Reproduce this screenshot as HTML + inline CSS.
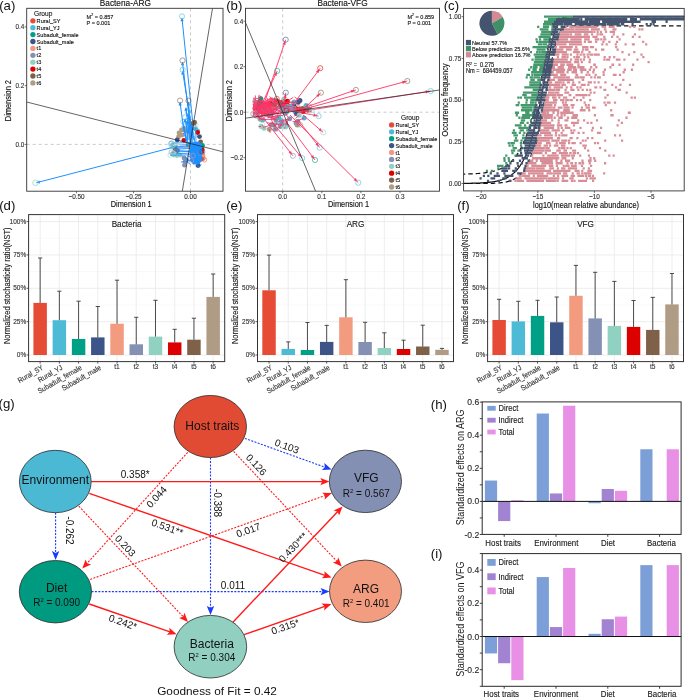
<!DOCTYPE html>
<html><head><meta charset="utf-8"><style>
html,body{margin:0;padding:0;background:#fff;width:685px;height:698px;overflow:hidden}
svg{display:block;font-family:'Liberation Sans',sans-serif;will-change:transform}
</style></head><body>
<svg width="685" height="698" viewBox="0 0 685 698" style="font-family:'Liberation Sans',sans-serif">
<text x="0" y="0" font-size="13.2" text-anchor="start" fill="#111" transform="translate(-0.80 9.50)" >(a)</text>
<text x="0" y="0" font-size="13.2" text-anchor="start" fill="#111" transform="translate(226.20 9.50)" >(b)</text>
<text x="0" y="0" font-size="13.2" text-anchor="start" fill="#111" transform="translate(443.70 9.50)" >(c)</text>
<text x="0" y="0" font-size="13.2" text-anchor="start" fill="#111" transform="translate(-0.80 210.30)" >(d)</text>
<text x="0" y="0" font-size="13.2" text-anchor="start" fill="#111" transform="translate(226.20 210.30)" >(e)</text>
<text x="0" y="0" font-size="13.2" text-anchor="start" fill="#111" transform="translate(457.20 210.30)" >(f)</text>
<text x="0" y="0" font-size="13.2" text-anchor="start" fill="#111" transform="translate(-1.50 408.30)" >(g)</text>
<text x="0" y="0" font-size="13.2" text-anchor="start" fill="#111" transform="translate(430.80 408.50)" >(h)</text>
<text x="0" y="0" font-size="13.2" text-anchor="start" fill="#111" transform="translate(430.80 557.50)" >(i)</text>
<line x1="28.60" y1="338.32" x2="224.70" y2="338.32" stroke="#F3F3F3" stroke-width="0.5" />
<line x1="28.60" y1="304.98" x2="224.70" y2="304.98" stroke="#F3F3F3" stroke-width="0.5" />
<line x1="28.60" y1="271.62" x2="224.70" y2="271.62" stroke="#F3F3F3" stroke-width="0.5" />
<line x1="28.60" y1="238.27" x2="224.70" y2="238.27" stroke="#F3F3F3" stroke-width="0.5" />
<line x1="28.60" y1="355.00" x2="224.70" y2="355.00" stroke="#EBEBEB" stroke-width="0.9" />
<line x1="28.60" y1="321.65" x2="224.70" y2="321.65" stroke="#EBEBEB" stroke-width="0.9" />
<line x1="28.60" y1="288.30" x2="224.70" y2="288.30" stroke="#EBEBEB" stroke-width="0.9" />
<line x1="28.60" y1="254.95" x2="224.70" y2="254.95" stroke="#EBEBEB" stroke-width="0.9" />
<line x1="28.60" y1="221.60" x2="224.70" y2="221.60" stroke="#EBEBEB" stroke-width="0.9" />
<line x1="40.14" y1="214.60" x2="40.14" y2="361.60" stroke="#EBEBEB" stroke-width="0.9" />
<line x1="59.36" y1="214.60" x2="59.36" y2="361.60" stroke="#EBEBEB" stroke-width="0.9" />
<line x1="78.59" y1="214.60" x2="78.59" y2="361.60" stroke="#EBEBEB" stroke-width="0.9" />
<line x1="97.81" y1="214.60" x2="97.81" y2="361.60" stroke="#EBEBEB" stroke-width="0.9" />
<line x1="117.04" y1="214.60" x2="117.04" y2="361.60" stroke="#EBEBEB" stroke-width="0.9" />
<line x1="136.26" y1="214.60" x2="136.26" y2="361.60" stroke="#EBEBEB" stroke-width="0.9" />
<line x1="155.49" y1="214.60" x2="155.49" y2="361.60" stroke="#EBEBEB" stroke-width="0.9" />
<line x1="174.71" y1="214.60" x2="174.71" y2="361.60" stroke="#EBEBEB" stroke-width="0.9" />
<line x1="193.94" y1="214.60" x2="193.94" y2="361.60" stroke="#EBEBEB" stroke-width="0.9" />
<line x1="213.16" y1="214.60" x2="213.16" y2="361.60" stroke="#EBEBEB" stroke-width="0.9" />
<rect x="33.41" y="302.90" width="13.46" height="52.10" fill="#E64B35" />
<rect x="52.63" y="320.20" width="13.46" height="34.80" fill="#4DBBD5" />
<rect x="71.86" y="339.00" width="13.46" height="16.00" fill="#00A087" />
<rect x="91.08" y="337.40" width="13.46" height="17.60" fill="#3C5488" />
<rect x="110.31" y="323.70" width="13.46" height="31.30" fill="#F39B7F" />
<rect x="129.53" y="344.30" width="13.46" height="10.70" fill="#8491B4" />
<rect x="148.76" y="336.60" width="13.46" height="18.40" fill="#91D1C2" />
<rect x="167.98" y="342.40" width="13.46" height="12.60" fill="#DC0000" />
<rect x="187.21" y="339.70" width="13.46" height="15.30" fill="#7E6148" />
<rect x="206.44" y="296.90" width="13.46" height="58.10" fill="#B09C85" />
<line x1="40.14" y1="302.90" x2="40.14" y2="258.00" stroke="#3a3a3a" stroke-width="0.9" />
<line x1="38.04" y1="258.00" x2="42.24" y2="258.00" stroke="#3a3a3a" stroke-width="0.9" />
<line x1="59.36" y1="320.20" x2="59.36" y2="291.20" stroke="#3a3a3a" stroke-width="0.9" />
<line x1="57.26" y1="291.20" x2="61.46" y2="291.20" stroke="#3a3a3a" stroke-width="0.9" />
<line x1="78.59" y1="339.00" x2="78.59" y2="301.20" stroke="#3a3a3a" stroke-width="0.9" />
<line x1="76.49" y1="301.20" x2="80.69" y2="301.20" stroke="#3a3a3a" stroke-width="0.9" />
<line x1="97.81" y1="337.40" x2="97.81" y2="306.50" stroke="#3a3a3a" stroke-width="0.9" />
<line x1="95.71" y1="306.50" x2="99.91" y2="306.50" stroke="#3a3a3a" stroke-width="0.9" />
<line x1="117.04" y1="323.70" x2="117.04" y2="280.20" stroke="#3a3a3a" stroke-width="0.9" />
<line x1="114.94" y1="280.20" x2="119.14" y2="280.20" stroke="#3a3a3a" stroke-width="0.9" />
<line x1="136.26" y1="344.30" x2="136.26" y2="317.30" stroke="#3a3a3a" stroke-width="0.9" />
<line x1="134.16" y1="317.30" x2="138.36" y2="317.30" stroke="#3a3a3a" stroke-width="0.9" />
<line x1="155.49" y1="336.60" x2="155.49" y2="300.30" stroke="#3a3a3a" stroke-width="0.9" />
<line x1="153.39" y1="300.30" x2="157.59" y2="300.30" stroke="#3a3a3a" stroke-width="0.9" />
<line x1="174.71" y1="342.40" x2="174.71" y2="329.30" stroke="#3a3a3a" stroke-width="0.9" />
<line x1="172.61" y1="329.30" x2="176.81" y2="329.30" stroke="#3a3a3a" stroke-width="0.9" />
<line x1="193.94" y1="339.70" x2="193.94" y2="318.20" stroke="#3a3a3a" stroke-width="0.9" />
<line x1="191.84" y1="318.20" x2="196.04" y2="318.20" stroke="#3a3a3a" stroke-width="0.9" />
<line x1="213.16" y1="296.90" x2="213.16" y2="274.00" stroke="#3a3a3a" stroke-width="0.9" />
<line x1="211.06" y1="274.00" x2="215.26" y2="274.00" stroke="#3a3a3a" stroke-width="0.9" />
<rect x="28.60" y="214.60" width="196.10" height="147.00" fill="none" stroke="#333333" stroke-width="1"/>
<line x1="26.60" y1="355.00" x2="28.60" y2="355.00" stroke="#333333" stroke-width="0.8" />
<text x="0" y="0" font-size="6.5" text-anchor="end" fill="#333333" stroke="#333333" stroke-width="0.12" transform="translate(26.20 357.10) scale(1 1.12)" >0%</text>
<line x1="26.60" y1="321.65" x2="28.60" y2="321.65" stroke="#333333" stroke-width="0.8" />
<text x="0" y="0" font-size="6.5" text-anchor="end" fill="#333333" stroke="#333333" stroke-width="0.12" transform="translate(26.20 323.75) scale(1 1.12)" >25%</text>
<line x1="26.60" y1="288.30" x2="28.60" y2="288.30" stroke="#333333" stroke-width="0.8" />
<text x="0" y="0" font-size="6.5" text-anchor="end" fill="#333333" stroke="#333333" stroke-width="0.12" transform="translate(26.20 290.40) scale(1 1.12)" >50%</text>
<line x1="26.60" y1="254.95" x2="28.60" y2="254.95" stroke="#333333" stroke-width="0.8" />
<text x="0" y="0" font-size="6.5" text-anchor="end" fill="#333333" stroke="#333333" stroke-width="0.12" transform="translate(26.20 257.05) scale(1 1.12)" >75%</text>
<line x1="26.60" y1="221.60" x2="28.60" y2="221.60" stroke="#333333" stroke-width="0.8" />
<text x="0" y="0" font-size="6.5" text-anchor="end" fill="#333333" stroke="#333333" stroke-width="0.12" transform="translate(26.20 223.70) scale(1 1.12)" >100%</text>
<line x1="40.14" y1="361.60" x2="40.14" y2="363.60" stroke="#333333" stroke-width="0.8" />
<text x="0" y="0" font-size="6.6" text-anchor="end" fill="#333333" stroke="#333333" stroke-width="0.12" transform="translate(43.94 369.10) rotate(-30) scale(1 1.12)">Rural_SY</text>
<line x1="59.36" y1="361.60" x2="59.36" y2="363.60" stroke="#333333" stroke-width="0.8" />
<text x="0" y="0" font-size="6.6" text-anchor="end" fill="#333333" stroke="#333333" stroke-width="0.12" transform="translate(63.16 369.10) rotate(-30) scale(1 1.12)">Rural_YJ</text>
<line x1="78.59" y1="361.60" x2="78.59" y2="363.60" stroke="#333333" stroke-width="0.8" />
<text x="0" y="0" font-size="6.6" text-anchor="end" fill="#333333" stroke="#333333" stroke-width="0.12" transform="translate(82.39 369.10) rotate(-30) scale(1 1.12)">Subadult_female</text>
<line x1="97.81" y1="361.60" x2="97.81" y2="363.60" stroke="#333333" stroke-width="0.8" />
<text x="0" y="0" font-size="6.6" text-anchor="end" fill="#333333" stroke="#333333" stroke-width="0.12" transform="translate(101.61 369.10) rotate(-30) scale(1 1.12)">Subadult_male</text>
<line x1="117.04" y1="361.60" x2="117.04" y2="363.60" stroke="#333333" stroke-width="0.8" />
<text x="0" y="0" font-size="6.6" text-anchor="middle" fill="#333333" stroke="#333333" stroke-width="0.12" transform="translate(117.04 368.80) scale(1 1.12)" >t1</text>
<line x1="136.26" y1="361.60" x2="136.26" y2="363.60" stroke="#333333" stroke-width="0.8" />
<text x="0" y="0" font-size="6.6" text-anchor="middle" fill="#333333" stroke="#333333" stroke-width="0.12" transform="translate(136.26 368.80) scale(1 1.12)" >t2</text>
<line x1="155.49" y1="361.60" x2="155.49" y2="363.60" stroke="#333333" stroke-width="0.8" />
<text x="0" y="0" font-size="6.6" text-anchor="middle" fill="#333333" stroke="#333333" stroke-width="0.12" transform="translate(155.49 368.80) scale(1 1.12)" >t3</text>
<line x1="174.71" y1="361.60" x2="174.71" y2="363.60" stroke="#333333" stroke-width="0.8" />
<text x="0" y="0" font-size="6.6" text-anchor="middle" fill="#333333" stroke="#333333" stroke-width="0.12" transform="translate(174.71 368.80) scale(1 1.12)" >t4</text>
<line x1="193.94" y1="361.60" x2="193.94" y2="363.60" stroke="#333333" stroke-width="0.8" />
<text x="0" y="0" font-size="6.6" text-anchor="middle" fill="#333333" stroke="#333333" stroke-width="0.12" transform="translate(193.94 368.80) scale(1 1.12)" >t5</text>
<line x1="213.16" y1="361.60" x2="213.16" y2="363.60" stroke="#333333" stroke-width="0.8" />
<text x="0" y="0" font-size="6.6" text-anchor="middle" fill="#333333" stroke="#333333" stroke-width="0.12" transform="translate(213.16 368.80) scale(1 1.12)" >t6</text>
<text x="0" y="0" font-size="8.2" text-anchor="middle" fill="#1a1a1a" stroke="#1a1a1a" stroke-width="0.12" transform="translate(126.65 227.00) scale(1 1.12)" >Bacteria</text>
<text x="0" y="0" font-size="7.45" text-anchor="middle" dominant-baseline="central" fill="#1a1a1a" stroke="#1a1a1a" stroke-width="0.12" transform="translate(7.50 285.80) rotate(-90.00) scale(1 1.12)" >Normalized stochasticity ratio(NST)</text>
<line x1="257.50" y1="338.32" x2="453.50" y2="338.32" stroke="#F3F3F3" stroke-width="0.5" />
<line x1="257.50" y1="304.98" x2="453.50" y2="304.98" stroke="#F3F3F3" stroke-width="0.5" />
<line x1="257.50" y1="271.62" x2="453.50" y2="271.62" stroke="#F3F3F3" stroke-width="0.5" />
<line x1="257.50" y1="238.27" x2="453.50" y2="238.27" stroke="#F3F3F3" stroke-width="0.5" />
<line x1="257.50" y1="355.00" x2="453.50" y2="355.00" stroke="#EBEBEB" stroke-width="0.9" />
<line x1="257.50" y1="321.65" x2="453.50" y2="321.65" stroke="#EBEBEB" stroke-width="0.9" />
<line x1="257.50" y1="288.30" x2="453.50" y2="288.30" stroke="#EBEBEB" stroke-width="0.9" />
<line x1="257.50" y1="254.95" x2="453.50" y2="254.95" stroke="#EBEBEB" stroke-width="0.9" />
<line x1="257.50" y1="221.60" x2="453.50" y2="221.60" stroke="#EBEBEB" stroke-width="0.9" />
<line x1="269.03" y1="214.60" x2="269.03" y2="361.60" stroke="#EBEBEB" stroke-width="0.9" />
<line x1="288.25" y1="214.60" x2="288.25" y2="361.60" stroke="#EBEBEB" stroke-width="0.9" />
<line x1="307.46" y1="214.60" x2="307.46" y2="361.60" stroke="#EBEBEB" stroke-width="0.9" />
<line x1="326.68" y1="214.60" x2="326.68" y2="361.60" stroke="#EBEBEB" stroke-width="0.9" />
<line x1="345.89" y1="214.60" x2="345.89" y2="361.60" stroke="#EBEBEB" stroke-width="0.9" />
<line x1="365.11" y1="214.60" x2="365.11" y2="361.60" stroke="#EBEBEB" stroke-width="0.9" />
<line x1="384.32" y1="214.60" x2="384.32" y2="361.60" stroke="#EBEBEB" stroke-width="0.9" />
<line x1="403.54" y1="214.60" x2="403.54" y2="361.60" stroke="#EBEBEB" stroke-width="0.9" />
<line x1="422.75" y1="214.60" x2="422.75" y2="361.60" stroke="#EBEBEB" stroke-width="0.9" />
<line x1="441.97" y1="214.60" x2="441.97" y2="361.60" stroke="#EBEBEB" stroke-width="0.9" />
<rect x="262.30" y="290.30" width="13.45" height="64.70" fill="#E64B35" />
<rect x="281.52" y="348.90" width="13.45" height="6.10" fill="#4DBBD5" />
<rect x="300.74" y="350.00" width="13.45" height="5.00" fill="#00A087" />
<rect x="319.95" y="341.90" width="13.45" height="13.10" fill="#3C5488" />
<rect x="339.17" y="317.30" width="13.45" height="37.70" fill="#F39B7F" />
<rect x="358.38" y="342.00" width="13.45" height="13.00" fill="#8491B4" />
<rect x="377.60" y="348.00" width="13.45" height="7.00" fill="#91D1C2" />
<rect x="396.81" y="349.00" width="13.45" height="6.00" fill="#DC0000" />
<rect x="416.03" y="346.50" width="13.45" height="8.50" fill="#7E6148" />
<rect x="435.25" y="349.80" width="13.45" height="5.20" fill="#B09C85" />
<line x1="269.03" y1="290.30" x2="269.03" y2="255.10" stroke="#3a3a3a" stroke-width="0.9" />
<line x1="266.93" y1="255.10" x2="271.13" y2="255.10" stroke="#3a3a3a" stroke-width="0.9" />
<line x1="288.25" y1="348.90" x2="288.25" y2="341.90" stroke="#3a3a3a" stroke-width="0.9" />
<line x1="286.15" y1="341.90" x2="290.35" y2="341.90" stroke="#3a3a3a" stroke-width="0.9" />
<line x1="307.46" y1="350.00" x2="307.46" y2="322.50" stroke="#3a3a3a" stroke-width="0.9" />
<line x1="305.36" y1="322.50" x2="309.56" y2="322.50" stroke="#3a3a3a" stroke-width="0.9" />
<line x1="326.68" y1="341.90" x2="326.68" y2="325.40" stroke="#3a3a3a" stroke-width="0.9" />
<line x1="324.58" y1="325.40" x2="328.78" y2="325.40" stroke="#3a3a3a" stroke-width="0.9" />
<line x1="345.89" y1="317.30" x2="345.89" y2="279.70" stroke="#3a3a3a" stroke-width="0.9" />
<line x1="343.79" y1="279.70" x2="347.99" y2="279.70" stroke="#3a3a3a" stroke-width="0.9" />
<line x1="365.11" y1="342.00" x2="365.11" y2="322.30" stroke="#3a3a3a" stroke-width="0.9" />
<line x1="363.01" y1="322.30" x2="367.21" y2="322.30" stroke="#3a3a3a" stroke-width="0.9" />
<line x1="384.32" y1="348.00" x2="384.32" y2="332.80" stroke="#3a3a3a" stroke-width="0.9" />
<line x1="382.22" y1="332.80" x2="386.42" y2="332.80" stroke="#3a3a3a" stroke-width="0.9" />
<line x1="403.54" y1="349.00" x2="403.54" y2="340.20" stroke="#3a3a3a" stroke-width="0.9" />
<line x1="401.44" y1="340.20" x2="405.64" y2="340.20" stroke="#3a3a3a" stroke-width="0.9" />
<line x1="422.75" y1="346.50" x2="422.75" y2="325.20" stroke="#3a3a3a" stroke-width="0.9" />
<line x1="420.65" y1="325.20" x2="424.85" y2="325.20" stroke="#3a3a3a" stroke-width="0.9" />
<line x1="441.97" y1="349.80" x2="441.97" y2="348.40" stroke="#3a3a3a" stroke-width="0.9" />
<line x1="439.87" y1="348.40" x2="444.07" y2="348.40" stroke="#3a3a3a" stroke-width="0.9" />
<rect x="257.50" y="214.60" width="196.00" height="147.00" fill="none" stroke="#333333" stroke-width="1"/>
<line x1="255.50" y1="355.00" x2="257.50" y2="355.00" stroke="#333333" stroke-width="0.8" />
<text x="0" y="0" font-size="6.5" text-anchor="end" fill="#333333" stroke="#333333" stroke-width="0.12" transform="translate(255.10 357.10) scale(1 1.12)" >0%</text>
<line x1="255.50" y1="321.65" x2="257.50" y2="321.65" stroke="#333333" stroke-width="0.8" />
<text x="0" y="0" font-size="6.5" text-anchor="end" fill="#333333" stroke="#333333" stroke-width="0.12" transform="translate(255.10 323.75) scale(1 1.12)" >25%</text>
<line x1="255.50" y1="288.30" x2="257.50" y2="288.30" stroke="#333333" stroke-width="0.8" />
<text x="0" y="0" font-size="6.5" text-anchor="end" fill="#333333" stroke="#333333" stroke-width="0.12" transform="translate(255.10 290.40) scale(1 1.12)" >50%</text>
<line x1="255.50" y1="254.95" x2="257.50" y2="254.95" stroke="#333333" stroke-width="0.8" />
<text x="0" y="0" font-size="6.5" text-anchor="end" fill="#333333" stroke="#333333" stroke-width="0.12" transform="translate(255.10 257.05) scale(1 1.12)" >75%</text>
<line x1="255.50" y1="221.60" x2="257.50" y2="221.60" stroke="#333333" stroke-width="0.8" />
<text x="0" y="0" font-size="6.5" text-anchor="end" fill="#333333" stroke="#333333" stroke-width="0.12" transform="translate(255.10 223.70) scale(1 1.12)" >100%</text>
<line x1="269.03" y1="361.60" x2="269.03" y2="363.60" stroke="#333333" stroke-width="0.8" />
<text x="0" y="0" font-size="6.6" text-anchor="end" fill="#333333" stroke="#333333" stroke-width="0.12" transform="translate(272.83 369.10) rotate(-30) scale(1 1.12)">Rural_SY</text>
<line x1="288.25" y1="361.60" x2="288.25" y2="363.60" stroke="#333333" stroke-width="0.8" />
<text x="0" y="0" font-size="6.6" text-anchor="end" fill="#333333" stroke="#333333" stroke-width="0.12" transform="translate(292.05 369.10) rotate(-30) scale(1 1.12)">Rural_YJ</text>
<line x1="307.46" y1="361.60" x2="307.46" y2="363.60" stroke="#333333" stroke-width="0.8" />
<text x="0" y="0" font-size="6.6" text-anchor="end" fill="#333333" stroke="#333333" stroke-width="0.12" transform="translate(311.26 369.10) rotate(-30) scale(1 1.12)">Subadult_female</text>
<line x1="326.68" y1="361.60" x2="326.68" y2="363.60" stroke="#333333" stroke-width="0.8" />
<text x="0" y="0" font-size="6.6" text-anchor="end" fill="#333333" stroke="#333333" stroke-width="0.12" transform="translate(330.48 369.10) rotate(-30) scale(1 1.12)">Subadult_male</text>
<line x1="345.89" y1="361.60" x2="345.89" y2="363.60" stroke="#333333" stroke-width="0.8" />
<text x="0" y="0" font-size="6.6" text-anchor="middle" fill="#333333" stroke="#333333" stroke-width="0.12" transform="translate(345.89 368.80) scale(1 1.12)" >t1</text>
<line x1="365.11" y1="361.60" x2="365.11" y2="363.60" stroke="#333333" stroke-width="0.8" />
<text x="0" y="0" font-size="6.6" text-anchor="middle" fill="#333333" stroke="#333333" stroke-width="0.12" transform="translate(365.11 368.80) scale(1 1.12)" >t2</text>
<line x1="384.32" y1="361.60" x2="384.32" y2="363.60" stroke="#333333" stroke-width="0.8" />
<text x="0" y="0" font-size="6.6" text-anchor="middle" fill="#333333" stroke="#333333" stroke-width="0.12" transform="translate(384.32 368.80) scale(1 1.12)" >t3</text>
<line x1="403.54" y1="361.60" x2="403.54" y2="363.60" stroke="#333333" stroke-width="0.8" />
<text x="0" y="0" font-size="6.6" text-anchor="middle" fill="#333333" stroke="#333333" stroke-width="0.12" transform="translate(403.54 368.80) scale(1 1.12)" >t4</text>
<line x1="422.75" y1="361.60" x2="422.75" y2="363.60" stroke="#333333" stroke-width="0.8" />
<text x="0" y="0" font-size="6.6" text-anchor="middle" fill="#333333" stroke="#333333" stroke-width="0.12" transform="translate(422.75 368.80) scale(1 1.12)" >t5</text>
<line x1="441.97" y1="361.60" x2="441.97" y2="363.60" stroke="#333333" stroke-width="0.8" />
<text x="0" y="0" font-size="6.6" text-anchor="middle" fill="#333333" stroke="#333333" stroke-width="0.12" transform="translate(441.97 368.80) scale(1 1.12)" >t6</text>
<text x="0" y="0" font-size="8.2" text-anchor="middle" fill="#1a1a1a" stroke="#1a1a1a" stroke-width="0.12" transform="translate(355.50 227.00) scale(1 1.12)" >ARG</text>
<text x="0" y="0" font-size="7.45" text-anchor="middle" dominant-baseline="central" fill="#1a1a1a" stroke="#1a1a1a" stroke-width="0.12" transform="translate(235.50 285.80) rotate(-90.00) scale(1 1.12)" >Normalized stochasticity ratio(NST)</text>
<line x1="487.60" y1="338.32" x2="683.50" y2="338.32" stroke="#F3F3F3" stroke-width="0.5" />
<line x1="487.60" y1="304.98" x2="683.50" y2="304.98" stroke="#F3F3F3" stroke-width="0.5" />
<line x1="487.60" y1="271.62" x2="683.50" y2="271.62" stroke="#F3F3F3" stroke-width="0.5" />
<line x1="487.60" y1="238.27" x2="683.50" y2="238.27" stroke="#F3F3F3" stroke-width="0.5" />
<line x1="487.60" y1="355.00" x2="683.50" y2="355.00" stroke="#EBEBEB" stroke-width="0.9" />
<line x1="487.60" y1="321.65" x2="683.50" y2="321.65" stroke="#EBEBEB" stroke-width="0.9" />
<line x1="487.60" y1="288.30" x2="683.50" y2="288.30" stroke="#EBEBEB" stroke-width="0.9" />
<line x1="487.60" y1="254.95" x2="683.50" y2="254.95" stroke="#EBEBEB" stroke-width="0.9" />
<line x1="487.60" y1="221.60" x2="683.50" y2="221.60" stroke="#EBEBEB" stroke-width="0.9" />
<line x1="499.12" y1="214.60" x2="499.12" y2="361.60" stroke="#EBEBEB" stroke-width="0.9" />
<line x1="518.33" y1="214.60" x2="518.33" y2="361.60" stroke="#EBEBEB" stroke-width="0.9" />
<line x1="537.54" y1="214.60" x2="537.54" y2="361.60" stroke="#EBEBEB" stroke-width="0.9" />
<line x1="556.74" y1="214.60" x2="556.74" y2="361.60" stroke="#EBEBEB" stroke-width="0.9" />
<line x1="575.95" y1="214.60" x2="575.95" y2="361.60" stroke="#EBEBEB" stroke-width="0.9" />
<line x1="595.15" y1="214.60" x2="595.15" y2="361.60" stroke="#EBEBEB" stroke-width="0.9" />
<line x1="614.36" y1="214.60" x2="614.36" y2="361.60" stroke="#EBEBEB" stroke-width="0.9" />
<line x1="633.56" y1="214.60" x2="633.56" y2="361.60" stroke="#EBEBEB" stroke-width="0.9" />
<line x1="652.77" y1="214.60" x2="652.77" y2="361.60" stroke="#EBEBEB" stroke-width="0.9" />
<line x1="671.98" y1="214.60" x2="671.98" y2="361.60" stroke="#EBEBEB" stroke-width="0.9" />
<rect x="492.40" y="320.00" width="13.44" height="35.00" fill="#E64B35" />
<rect x="511.61" y="321.40" width="13.44" height="33.60" fill="#4DBBD5" />
<rect x="530.81" y="315.90" width="13.44" height="39.10" fill="#00A087" />
<rect x="550.02" y="322.30" width="13.44" height="32.70" fill="#3C5488" />
<rect x="569.23" y="295.80" width="13.44" height="59.20" fill="#F39B7F" />
<rect x="588.43" y="318.40" width="13.44" height="36.60" fill="#8491B4" />
<rect x="607.64" y="325.90" width="13.44" height="29.10" fill="#91D1C2" />
<rect x="626.84" y="326.90" width="13.44" height="28.10" fill="#DC0000" />
<rect x="646.05" y="329.90" width="13.44" height="25.10" fill="#7E6148" />
<rect x="665.25" y="304.40" width="13.44" height="50.60" fill="#B09C85" />
<line x1="499.12" y1="320.00" x2="499.12" y2="299.30" stroke="#3a3a3a" stroke-width="0.9" />
<line x1="497.02" y1="299.30" x2="501.22" y2="299.30" stroke="#3a3a3a" stroke-width="0.9" />
<line x1="518.33" y1="321.40" x2="518.33" y2="301.30" stroke="#3a3a3a" stroke-width="0.9" />
<line x1="516.23" y1="301.30" x2="520.43" y2="301.30" stroke="#3a3a3a" stroke-width="0.9" />
<line x1="537.54" y1="315.90" x2="537.54" y2="300.30" stroke="#3a3a3a" stroke-width="0.9" />
<line x1="535.44" y1="300.30" x2="539.64" y2="300.30" stroke="#3a3a3a" stroke-width="0.9" />
<line x1="556.74" y1="322.30" x2="556.74" y2="297.00" stroke="#3a3a3a" stroke-width="0.9" />
<line x1="554.64" y1="297.00" x2="558.84" y2="297.00" stroke="#3a3a3a" stroke-width="0.9" />
<line x1="575.95" y1="295.80" x2="575.95" y2="265.40" stroke="#3a3a3a" stroke-width="0.9" />
<line x1="573.85" y1="265.40" x2="578.05" y2="265.40" stroke="#3a3a3a" stroke-width="0.9" />
<line x1="595.15" y1="318.40" x2="595.15" y2="272.30" stroke="#3a3a3a" stroke-width="0.9" />
<line x1="593.05" y1="272.30" x2="597.25" y2="272.30" stroke="#3a3a3a" stroke-width="0.9" />
<line x1="614.36" y1="325.90" x2="614.36" y2="281.40" stroke="#3a3a3a" stroke-width="0.9" />
<line x1="612.26" y1="281.40" x2="616.46" y2="281.40" stroke="#3a3a3a" stroke-width="0.9" />
<line x1="633.56" y1="326.90" x2="633.56" y2="300.50" stroke="#3a3a3a" stroke-width="0.9" />
<line x1="631.46" y1="300.50" x2="635.66" y2="300.50" stroke="#3a3a3a" stroke-width="0.9" />
<line x1="652.77" y1="329.90" x2="652.77" y2="297.40" stroke="#3a3a3a" stroke-width="0.9" />
<line x1="650.67" y1="297.40" x2="654.87" y2="297.40" stroke="#3a3a3a" stroke-width="0.9" />
<line x1="671.98" y1="304.40" x2="671.98" y2="273.50" stroke="#3a3a3a" stroke-width="0.9" />
<line x1="669.88" y1="273.50" x2="674.08" y2="273.50" stroke="#3a3a3a" stroke-width="0.9" />
<rect x="487.60" y="214.60" width="195.90" height="147.00" fill="none" stroke="#333333" stroke-width="1"/>
<line x1="485.60" y1="355.00" x2="487.60" y2="355.00" stroke="#333333" stroke-width="0.8" />
<text x="0" y="0" font-size="6.5" text-anchor="end" fill="#333333" stroke="#333333" stroke-width="0.12" transform="translate(485.20 357.10) scale(1 1.12)" >0%</text>
<line x1="485.60" y1="321.65" x2="487.60" y2="321.65" stroke="#333333" stroke-width="0.8" />
<text x="0" y="0" font-size="6.5" text-anchor="end" fill="#333333" stroke="#333333" stroke-width="0.12" transform="translate(485.20 323.75) scale(1 1.12)" >25%</text>
<line x1="485.60" y1="288.30" x2="487.60" y2="288.30" stroke="#333333" stroke-width="0.8" />
<text x="0" y="0" font-size="6.5" text-anchor="end" fill="#333333" stroke="#333333" stroke-width="0.12" transform="translate(485.20 290.40) scale(1 1.12)" >50%</text>
<line x1="485.60" y1="254.95" x2="487.60" y2="254.95" stroke="#333333" stroke-width="0.8" />
<text x="0" y="0" font-size="6.5" text-anchor="end" fill="#333333" stroke="#333333" stroke-width="0.12" transform="translate(485.20 257.05) scale(1 1.12)" >75%</text>
<line x1="485.60" y1="221.60" x2="487.60" y2="221.60" stroke="#333333" stroke-width="0.8" />
<text x="0" y="0" font-size="6.5" text-anchor="end" fill="#333333" stroke="#333333" stroke-width="0.12" transform="translate(485.20 223.70) scale(1 1.12)" >100%</text>
<line x1="499.12" y1="361.60" x2="499.12" y2="363.60" stroke="#333333" stroke-width="0.8" />
<text x="0" y="0" font-size="6.6" text-anchor="end" fill="#333333" stroke="#333333" stroke-width="0.12" transform="translate(502.92 369.10) rotate(-30) scale(1 1.12)">Rural_SY</text>
<line x1="518.33" y1="361.60" x2="518.33" y2="363.60" stroke="#333333" stroke-width="0.8" />
<text x="0" y="0" font-size="6.6" text-anchor="end" fill="#333333" stroke="#333333" stroke-width="0.12" transform="translate(522.13 369.10) rotate(-30) scale(1 1.12)">Rural_YJ</text>
<line x1="537.54" y1="361.60" x2="537.54" y2="363.60" stroke="#333333" stroke-width="0.8" />
<text x="0" y="0" font-size="6.6" text-anchor="end" fill="#333333" stroke="#333333" stroke-width="0.12" transform="translate(541.34 369.10) rotate(-30) scale(1 1.12)">Subadult_female</text>
<line x1="556.74" y1="361.60" x2="556.74" y2="363.60" stroke="#333333" stroke-width="0.8" />
<text x="0" y="0" font-size="6.6" text-anchor="end" fill="#333333" stroke="#333333" stroke-width="0.12" transform="translate(560.54 369.10) rotate(-30) scale(1 1.12)">Subadult_male</text>
<line x1="575.95" y1="361.60" x2="575.95" y2="363.60" stroke="#333333" stroke-width="0.8" />
<text x="0" y="0" font-size="6.6" text-anchor="middle" fill="#333333" stroke="#333333" stroke-width="0.12" transform="translate(575.95 368.80) scale(1 1.12)" >t1</text>
<line x1="595.15" y1="361.60" x2="595.15" y2="363.60" stroke="#333333" stroke-width="0.8" />
<text x="0" y="0" font-size="6.6" text-anchor="middle" fill="#333333" stroke="#333333" stroke-width="0.12" transform="translate(595.15 368.80) scale(1 1.12)" >t2</text>
<line x1="614.36" y1="361.60" x2="614.36" y2="363.60" stroke="#333333" stroke-width="0.8" />
<text x="0" y="0" font-size="6.6" text-anchor="middle" fill="#333333" stroke="#333333" stroke-width="0.12" transform="translate(614.36 368.80) scale(1 1.12)" >t3</text>
<line x1="633.56" y1="361.60" x2="633.56" y2="363.60" stroke="#333333" stroke-width="0.8" />
<text x="0" y="0" font-size="6.6" text-anchor="middle" fill="#333333" stroke="#333333" stroke-width="0.12" transform="translate(633.56 368.80) scale(1 1.12)" >t4</text>
<line x1="652.77" y1="361.60" x2="652.77" y2="363.60" stroke="#333333" stroke-width="0.8" />
<text x="0" y="0" font-size="6.6" text-anchor="middle" fill="#333333" stroke="#333333" stroke-width="0.12" transform="translate(652.77 368.80) scale(1 1.12)" >t5</text>
<line x1="671.98" y1="361.60" x2="671.98" y2="363.60" stroke="#333333" stroke-width="0.8" />
<text x="0" y="0" font-size="6.6" text-anchor="middle" fill="#333333" stroke="#333333" stroke-width="0.12" transform="translate(671.98 368.80) scale(1 1.12)" >t6</text>
<text x="0" y="0" font-size="8.2" text-anchor="middle" fill="#1a1a1a" stroke="#1a1a1a" stroke-width="0.12" transform="translate(585.55 227.00) scale(1 1.12)" >VFG</text>
<text x="0" y="0" font-size="7.45" text-anchor="middle" dominant-baseline="central" fill="#1a1a1a" stroke="#1a1a1a" stroke-width="0.12" transform="translate(465.30 285.80) rotate(-90.00) scale(1 1.12)" >Normalized stochasticity ratio(NST)</text>
<rect x="484.90" y="480.55" width="12.20" height="20.85" fill="#7B9FD6" />
<rect x="498.10" y="501.40" width="12.20" height="19.69" fill="#A283D2" />
<rect x="511.30" y="500.24" width="12.20" height="1.16" fill="#E88FE6" />
<rect x="536.70" y="413.52" width="12.20" height="87.88" fill="#7B9FD6" />
<rect x="549.90" y="493.46" width="12.20" height="7.94" fill="#A283D2" />
<rect x="563.10" y="405.74" width="12.20" height="95.66" fill="#E88FE6" />
<rect x="588.50" y="501.40" width="12.20" height="1.82" fill="#7B9FD6" />
<rect x="601.70" y="488.99" width="12.20" height="12.41" fill="#A283D2" />
<rect x="614.90" y="490.81" width="12.20" height="10.59" fill="#E88FE6" />
<rect x="640.30" y="449.27" width="12.20" height="52.13" fill="#7B9FD6" />
<rect x="666.70" y="449.27" width="12.20" height="52.13" fill="#E88FE6" />
<line x1="482.20" y1="501.40" x2="681.10" y2="501.40" stroke="#111" stroke-width="1" />
<rect x="482.20" y="401.90" width="198.90" height="132.50" fill="none" stroke="#2a2a2a" stroke-width="1"/>
<line x1="479.80" y1="402.10" x2="482.20" y2="402.10" stroke="#2a2a2a" stroke-width="0.9" />
<text x="0" y="0" font-size="8.6" text-anchor="end" fill="#2a2a2a" stroke="#2a2a2a" stroke-width="0.12" transform="translate(479.20 405.10) scale(1 1.12)" >0.6</text>
<line x1="479.80" y1="418.65" x2="482.20" y2="418.65" stroke="#2a2a2a" stroke-width="0.9" />
<line x1="479.80" y1="435.20" x2="482.20" y2="435.20" stroke="#2a2a2a" stroke-width="0.9" />
<text x="0" y="0" font-size="8.6" text-anchor="end" fill="#2a2a2a" stroke="#2a2a2a" stroke-width="0.12" transform="translate(479.20 438.20) scale(1 1.12)" >0.4</text>
<line x1="479.80" y1="451.75" x2="482.20" y2="451.75" stroke="#2a2a2a" stroke-width="0.9" />
<line x1="479.80" y1="468.30" x2="482.20" y2="468.30" stroke="#2a2a2a" stroke-width="0.9" />
<text x="0" y="0" font-size="8.6" text-anchor="end" fill="#2a2a2a" stroke="#2a2a2a" stroke-width="0.12" transform="translate(479.20 471.30) scale(1 1.12)" >0.2</text>
<line x1="479.80" y1="484.85" x2="482.20" y2="484.85" stroke="#2a2a2a" stroke-width="0.9" />
<line x1="479.80" y1="501.40" x2="482.20" y2="501.40" stroke="#2a2a2a" stroke-width="0.9" />
<text x="0" y="0" font-size="8.6" text-anchor="end" fill="#2a2a2a" stroke="#2a2a2a" stroke-width="0.12" transform="translate(479.20 504.40) scale(1 1.12)" >0.0</text>
<line x1="479.80" y1="517.95" x2="482.20" y2="517.95" stroke="#2a2a2a" stroke-width="0.9" />
<line x1="479.80" y1="534.50" x2="482.20" y2="534.50" stroke="#2a2a2a" stroke-width="0.9" />
<text x="0" y="0" font-size="8.6" text-anchor="end" fill="#2a2a2a" stroke="#2a2a2a" stroke-width="0.12" transform="translate(479.20 537.50) scale(1 1.12)" >-0.2</text>
<line x1="504.20" y1="534.40" x2="504.20" y2="536.80" stroke="#2a2a2a" stroke-width="0.9" />
<text x="0" y="0" font-size="7.9" text-anchor="middle" fill="#1a1a1a" stroke="#1a1a1a" stroke-width="0.12" transform="translate(503.10 546.00) scale(1 1.12)" >Host traits</text>
<line x1="556.00" y1="534.40" x2="556.00" y2="536.80" stroke="#2a2a2a" stroke-width="0.9" />
<text x="0" y="0" font-size="7.9" text-anchor="middle" fill="#1a1a1a" stroke="#1a1a1a" stroke-width="0.12" transform="translate(556.30 546.00) scale(1 1.12)" >Environment</text>
<line x1="607.80" y1="534.40" x2="607.80" y2="536.80" stroke="#2a2a2a" stroke-width="0.9" />
<text x="0" y="0" font-size="7.9" text-anchor="middle" fill="#1a1a1a" stroke="#1a1a1a" stroke-width="0.12" transform="translate(608.00 546.00) scale(1 1.12)" >Diet</text>
<line x1="659.60" y1="534.40" x2="659.60" y2="536.80" stroke="#2a2a2a" stroke-width="0.9" />
<text x="0" y="0" font-size="7.9" text-anchor="middle" fill="#1a1a1a" stroke="#1a1a1a" stroke-width="0.12" transform="translate(661.50 546.00) scale(1 1.12)" >Bacteria</text>
<rect x="487.30" y="405.90" width="8.40" height="4.80" fill="#7B9FD6" />
<text x="0" y="0" font-size="7.6" text-anchor="start" fill="#1a1a1a" stroke="#1a1a1a" stroke-width="0.12" transform="translate(498.50 411.10) scale(1 1.12)" >Direct</text>
<rect x="487.30" y="417.80" width="8.40" height="4.80" fill="#A283D2" />
<text x="0" y="0" font-size="7.6" text-anchor="start" fill="#1a1a1a" stroke="#1a1a1a" stroke-width="0.12" transform="translate(498.50 423.00) scale(1 1.12)" >Indirect</text>
<rect x="487.30" y="429.60" width="8.40" height="4.80" fill="#E88FE6" />
<text x="0" y="0" font-size="7.6" text-anchor="start" fill="#1a1a1a" stroke="#1a1a1a" stroke-width="0.12" transform="translate(498.50 434.80) scale(1 1.12)" >Total</text>
<text x="0" y="0" font-size="9.0" text-anchor="middle" dominant-baseline="central" fill="#1a1a1a" transform="translate(460.50 467.40) rotate(-90.00) scale(1 1.12)" >Standardized effects on ARG</text>
<rect x="484.90" y="636.50" width="12.20" height="16.93" fill="#7B9FD6" />
<rect x="498.10" y="636.50" width="12.20" height="26.73" fill="#A283D2" />
<rect x="511.30" y="636.50" width="12.20" height="43.66" fill="#E88FE6" />
<rect x="536.70" y="577.07" width="12.20" height="59.43" fill="#7B9FD6" />
<rect x="549.90" y="627.04" width="12.20" height="9.46" fill="#A283D2" />
<rect x="563.10" y="567.94" width="12.20" height="68.56" fill="#E88FE6" />
<rect x="588.50" y="633.84" width="12.20" height="2.66" fill="#7B9FD6" />
<rect x="601.70" y="619.24" width="12.20" height="17.26" fill="#A283D2" />
<rect x="614.90" y="616.58" width="12.20" height="19.92" fill="#E88FE6" />
<rect x="640.30" y="565.12" width="12.20" height="71.38" fill="#7B9FD6" />
<rect x="666.70" y="565.12" width="12.20" height="71.38" fill="#E88FE6" />
<line x1="482.20" y1="636.50" x2="681.10" y2="636.50" stroke="#111" stroke-width="1" />
<rect x="482.20" y="553.60" width="198.90" height="132.70" fill="none" stroke="#2a2a2a" stroke-width="1"/>
<line x1="479.80" y1="553.50" x2="482.20" y2="553.50" stroke="#2a2a2a" stroke-width="0.9" />
<line x1="479.80" y1="570.10" x2="482.20" y2="570.10" stroke="#2a2a2a" stroke-width="0.9" />
<text x="0" y="0" font-size="8.6" text-anchor="end" fill="#2a2a2a" stroke="#2a2a2a" stroke-width="0.12" transform="translate(479.20 573.10) scale(1 1.12)" >0.4</text>
<line x1="479.80" y1="586.70" x2="482.20" y2="586.70" stroke="#2a2a2a" stroke-width="0.9" />
<line x1="479.80" y1="603.30" x2="482.20" y2="603.30" stroke="#2a2a2a" stroke-width="0.9" />
<text x="0" y="0" font-size="8.6" text-anchor="end" fill="#2a2a2a" stroke="#2a2a2a" stroke-width="0.12" transform="translate(479.20 606.30) scale(1 1.12)" >0.2</text>
<line x1="479.80" y1="619.90" x2="482.20" y2="619.90" stroke="#2a2a2a" stroke-width="0.9" />
<line x1="479.80" y1="636.50" x2="482.20" y2="636.50" stroke="#2a2a2a" stroke-width="0.9" />
<text x="0" y="0" font-size="8.6" text-anchor="end" fill="#2a2a2a" stroke="#2a2a2a" stroke-width="0.12" transform="translate(479.20 639.50) scale(1 1.12)" >0.0</text>
<line x1="479.80" y1="653.10" x2="482.20" y2="653.10" stroke="#2a2a2a" stroke-width="0.9" />
<line x1="479.80" y1="669.70" x2="482.20" y2="669.70" stroke="#2a2a2a" stroke-width="0.9" />
<text x="0" y="0" font-size="8.6" text-anchor="end" fill="#2a2a2a" stroke="#2a2a2a" stroke-width="0.12" transform="translate(479.20 672.70) scale(1 1.12)" >-0.2</text>
<line x1="479.80" y1="686.30" x2="482.20" y2="686.30" stroke="#2a2a2a" stroke-width="0.9" />
<line x1="504.20" y1="686.30" x2="504.20" y2="688.70" stroke="#2a2a2a" stroke-width="0.9" />
<text x="0" y="0" font-size="7.9" text-anchor="middle" fill="#1a1a1a" stroke="#1a1a1a" stroke-width="0.12" transform="translate(501.30 697.00) scale(1 1.12)" >Host traits</text>
<line x1="556.00" y1="686.30" x2="556.00" y2="688.70" stroke="#2a2a2a" stroke-width="0.9" />
<text x="0" y="0" font-size="7.9" text-anchor="middle" fill="#1a1a1a" stroke="#1a1a1a" stroke-width="0.12" transform="translate(556.00 697.00) scale(1 1.12)" >Environment</text>
<line x1="607.80" y1="686.30" x2="607.80" y2="688.70" stroke="#2a2a2a" stroke-width="0.9" />
<text x="0" y="0" font-size="7.9" text-anchor="middle" fill="#1a1a1a" stroke="#1a1a1a" stroke-width="0.12" transform="translate(607.80 697.00) scale(1 1.12)" >Diet</text>
<line x1="659.60" y1="686.30" x2="659.60" y2="688.70" stroke="#2a2a2a" stroke-width="0.9" />
<text x="0" y="0" font-size="7.9" text-anchor="middle" fill="#1a1a1a" stroke="#1a1a1a" stroke-width="0.12" transform="translate(662.00 697.00) scale(1 1.12)" >Bacteria</text>
<rect x="487.30" y="559.00" width="8.40" height="6.80" fill="#7B9FD6" />
<text x="0" y="0" font-size="7.6" text-anchor="start" fill="#1a1a1a" stroke="#1a1a1a" stroke-width="0.12" transform="translate(498.50 565.20) scale(1 1.12)" >Direct</text>
<rect x="487.30" y="573.30" width="8.40" height="6.80" fill="#A283D2" />
<text x="0" y="0" font-size="7.6" text-anchor="start" fill="#1a1a1a" stroke="#1a1a1a" stroke-width="0.12" transform="translate(498.50 579.50) scale(1 1.12)" >Indirect</text>
<rect x="487.30" y="587.50" width="8.40" height="6.80" fill="#E88FE6" />
<text x="0" y="0" font-size="7.6" text-anchor="start" fill="#1a1a1a" stroke="#1a1a1a" stroke-width="0.12" transform="translate(498.50 593.70) scale(1 1.12)" >Total</text>
<text x="0" y="0" font-size="9.0" text-anchor="middle" dominant-baseline="central" fill="#1a1a1a" transform="translate(460.50 619.20) rotate(-90.00) scale(1 1.12)" >Standardized effects on VFG</text>
<line x1="244.90" y1="438.40" x2="325.01" y2="467.23" stroke="#1A3CFF" stroke-width="1.1" stroke-dasharray="2.0 1.4"/>
<path d="M331.60 469.60 L321.88 470.03 L324.83 467.16 L324.38 463.07Z" fill="#1A3CFF"/>
<line x1="233.60" y1="451.40" x2="337.01" y2="561.50" stroke="#FF1A1A" stroke-width="1.1" stroke-dasharray="2.0 1.4"/>
<path d="M341.80 566.60 L332.94 562.57 L336.87 561.35 L338.34 557.51Z" fill="#FF1A1A"/>
<line x1="210.50" y1="457.60" x2="210.50" y2="607.90" stroke="#1A3CFF" stroke-width="1.1" stroke-dasharray="2.0 1.4"/>
<path d="M210.50 614.90 L206.80 605.90 L210.50 607.70 L214.20 605.90Z" fill="#1A3CFF"/>
<line x1="187.70" y1="452.30" x2="87.00" y2="563.41" stroke="#FF1A1A" stroke-width="1.1" stroke-dasharray="2.0 1.4"/>
<path d="M82.30 568.60 L85.60 559.45 L87.14 563.26 L91.09 564.42Z" fill="#FF1A1A"/>
<line x1="91.20" y1="481.60" x2="322.40" y2="481.60" stroke="#FF1A1A" stroke-width="1.4" />
<path d="M329.40 481.60 L320.40 485.30 L322.20 481.60 L320.40 477.90Z" fill="#FF1A1A"/>
<line x1="89.30" y1="493.40" x2="324.99" y2="575.30" stroke="#FF1A1A" stroke-width="1.4" />
<path d="M331.60 577.60 L321.88 578.14 L324.80 575.24 L324.31 571.15Z" fill="#FF1A1A"/>
<line x1="55.60" y1="512.70" x2="55.60" y2="553.10" stroke="#1A3CFF" stroke-width="1.1" stroke-dasharray="2.0 1.4"/>
<path d="M55.60 560.10 L51.90 551.10 L55.60 552.90 L59.30 551.10Z" fill="#1A3CFF"/>
<line x1="78.80" y1="506.20" x2="183.20" y2="616.81" stroke="#FF1A1A" stroke-width="1.1" stroke-dasharray="2.0 1.4"/>
<path d="M188.00 621.90 L179.13 617.89 L183.06 616.66 L184.51 612.82Z" fill="#FF1A1A"/>
<line x1="90.20" y1="579.40" x2="325.31" y2="495.45" stroke="#FF1A1A" stroke-width="1.1" stroke-dasharray="2.0 1.4"/>
<path d="M331.90 493.10 L324.67 499.61 L325.12 495.52 L322.18 492.64Z" fill="#FF1A1A"/>
<line x1="91.50" y1="591.60" x2="322.60" y2="591.60" stroke="#1A3CFF" stroke-width="1.1" stroke-dasharray="2.0 1.4"/>
<path d="M329.60 591.60 L320.60 595.30 L322.40 591.60 L320.60 587.90Z" fill="#1A3CFF"/>
<line x1="89.30" y1="604.00" x2="169.98" y2="631.91" stroke="#FF1A1A" stroke-width="1.4" />
<path d="M176.60 634.20 L166.88 634.75 L169.80 631.85 L169.30 627.76Z" fill="#FF1A1A"/>
<line x1="232.70" y1="622.40" x2="337.79" y2="511.48" stroke="#FF1A1A" stroke-width="1.4" />
<path d="M342.60 506.40 L339.10 515.48 L337.65 511.63 L333.72 510.39Z" fill="#FF1A1A"/>
<line x1="244.10" y1="634.70" x2="324.80" y2="606.32" stroke="#FF1A1A" stroke-width="1.4" />
<path d="M331.40 604.00 L324.14 610.48 L324.61 606.39 L321.68 603.50Z" fill="#FF1A1A"/>
<ellipse cx="210.3" cy="426.5" rx="36.2" ry="31.1" fill="#E24B33" stroke="#2a2a2a" stroke-width="0.8"/>
<text x="0" y="0" font-size="12.0" text-anchor="middle" fill="#111" transform="translate(212.30 429.90)" >Host traits</text>
<ellipse cx="55.3" cy="481.5" rx="35.9" ry="31.2" fill="#4BB8D4" stroke="#2a2a2a" stroke-width="0.8"/>
<text x="0" y="0" font-size="12.0" text-anchor="middle" fill="#111" transform="translate(55.30 484.10)" >Environment</text>
<ellipse cx="365.4" cy="481.4" rx="36.1" ry="31.2" fill="#8390B3" stroke="#2a2a2a" stroke-width="0.8"/>
<text x="0" y="0" font-size="12.0" text-anchor="middle" fill="#111" transform="translate(366.30 481.70)" >VFG</text>
<text x="0" y="0" font-size="10.0" text-anchor="middle" fill="#111" transform="translate(366.30 497.10)" >R<tspan font-size="5.8" dy="-4.3">2</tspan><tspan dy="4.3"> = 0.567</tspan></text>
<ellipse cx="55.4" cy="591.7" rx="36.1" ry="31.2" fill="#009A80" stroke="#2a2a2a" stroke-width="0.8"/>
<text x="0" y="0" font-size="12.0" text-anchor="middle" fill="#111" transform="translate(56.60 591.70)" >Diet</text>
<text x="0" y="0" font-size="10.0" text-anchor="middle" fill="#111" transform="translate(56.60 605.90)" >R<tspan font-size="5.8" dy="-4.3">2</tspan><tspan dy="4.3"> = 0.090</tspan></text>
<ellipse cx="365.5" cy="591.3" rx="36.0" ry="31.2" fill="#F29C80" stroke="#2a2a2a" stroke-width="0.8"/>
<text x="0" y="0" font-size="12.0" text-anchor="middle" fill="#111" transform="translate(366.10 592.60)" >ARG</text>
<text x="0" y="0" font-size="10.0" text-anchor="middle" fill="#111" transform="translate(366.10 606.90)" >R<tspan font-size="5.8" dy="-4.3">2</tspan><tspan dy="4.3"> = 0.401</tspan></text>
<ellipse cx="210.4" cy="646.7" rx="36.3" ry="31.3" fill="#91D0C1" stroke="#2a2a2a" stroke-width="0.8"/>
<text x="0" y="0" font-size="12.0" text-anchor="middle" fill="#111" transform="translate(211.80 647.70)" >Bacteria</text>
<text x="0" y="0" font-size="10.0" text-anchor="middle" fill="#111" transform="translate(211.80 661.10)" >R<tspan font-size="5.8" dy="-4.3">2</tspan><tspan dy="4.3"> = 0.304</tspan></text>
<text x="0" y="0" font-size="10.0" text-anchor="middle" fill="#111" transform="translate(135.20 478.40)" >0.358*</text>
<text x="0" y="0" font-size="10.0" text-anchor="middle" dominant-baseline="central" fill="#111" transform="translate(156.60 496.90) rotate(-47.50)" >0.044</text>
<text x="0" y="0" font-size="10.0" text-anchor="middle" dominant-baseline="central" fill="#111" transform="translate(217.10 503.00) rotate(90.00)" >-0.388</text>
<text x="0" y="0" font-size="10.0" text-anchor="middle" dominant-baseline="central" fill="#111" transform="translate(69.20 530.50) rotate(90.00)" >-0.262</text>
<text x="0" y="0" font-size="10.0" text-anchor="middle" dominant-baseline="central" fill="#111" transform="translate(167.30 527.40) rotate(19.50)" >0.531**</text>
<text x="0" y="0" font-size="10.0" text-anchor="middle" dominant-baseline="central" fill="#111" transform="translate(125.40 545.80) rotate(46.70)" >0.203</text>
<text x="0" y="0" font-size="10.0" text-anchor="middle" dominant-baseline="central" fill="#111" transform="translate(286.90 446.30) rotate(19.80)" >0.103</text>
<text x="0" y="0" font-size="10.0" text-anchor="middle" dominant-baseline="central" fill="#111" transform="translate(256.30 464.70) rotate(47.00)" >0.126</text>
<text x="0" y="0" font-size="10.0" text-anchor="middle" dominant-baseline="central" fill="#111" transform="translate(248.40 530.10) rotate(-19.60)" >0.017</text>
<text x="0" y="0" font-size="10.0" text-anchor="middle" dominant-baseline="central" fill="#111" transform="translate(293.00 547.30) rotate(-46.50)" >0.430***</text>
<text x="0" y="0" font-size="10.0" text-anchor="middle" fill="#111" transform="translate(233.00 588.60)" >0.011</text>
<text x="0" y="0" font-size="10.0" text-anchor="middle" dominant-baseline="central" fill="#111" transform="translate(122.80 622.20) rotate(19.10)" >0.242*</text>
<text x="0" y="0" font-size="10.0" text-anchor="middle" dominant-baseline="central" fill="#111" transform="translate(285.30 626.60) rotate(-19.40)" >0.315*</text>
<text x="0" y="0" font-size="11.8" text-anchor="middle" fill="#111" transform="translate(217.00 694.60)" >Goodness of Fit = 0.42</text>
<clipPath id="ca"><rect x="26.7" y="8.3" width="196.3" height="182.89999999999998"/></clipPath>
<clipPath id="cb"><rect x="245.5" y="8.3" width="194" height="182.89999999999998"/></clipPath>
<clipPath id="cc"><rect x="463.6" y="8.4" width="220.6" height="182.5"/></clipPath>
<g clip-path="url(#ca)">
<line x1="190.50" y1="8.30" x2="190.50" y2="191.20" stroke="#BDBDBD" stroke-width="0.8" stroke-dasharray="3 3"/>
<line x1="26.70" y1="144.40" x2="223.00" y2="144.40" stroke="#BDBDBD" stroke-width="0.8" stroke-dasharray="3 3"/>
<circle cx="178.5" cy="137" r="2.4" fill="#B09C85"/>
<circle cx="179" cy="133" r="2.4" fill="#B09C85"/>
<circle cx="181.5" cy="130" r="2.4" fill="#B09C85"/>
<circle cx="184" cy="128.5" r="2.4" fill="#B09C85"/>
<circle cx="182" cy="135" r="2.4" fill="#B09C85"/>
<circle cx="185.5" cy="131" r="2.4" fill="#B09C85"/>
<circle cx="194.7" cy="122.5" r="2.4" fill="#7E6148"/>
<circle cx="200.6" cy="141.8" r="2.4" fill="#7E6148"/>
<circle cx="174.9" cy="148.5" r="2.4" fill="#7E6148"/>
<circle cx="177.5" cy="150.5" r="2.4" fill="#7E6148"/>
<circle cx="195.8" cy="129.2" r="2.4" fill="#4DBBD5"/>
<circle cx="197.5" cy="131" r="2.4" fill="#4DBBD5"/>
<circle cx="197.6" cy="132.5" r="2.4" fill="#DC0000"/>
<circle cx="183.9" cy="140.3" r="2.4" fill="#DC0000"/>
<circle cx="201.7" cy="152.3" r="2.4" fill="#DC0000"/>
<circle cx="202.2" cy="149.5" r="2.4" fill="#DC0000"/>
<circle cx="199.5" cy="136.6" r="2.4" fill="#3C5488"/>
<circle cx="177.2" cy="140" r="2.4" fill="#3C5488"/>
<circle cx="198" cy="165.5" r="2.4" fill="#3C5488"/>
<circle cx="202.5" cy="145.5" r="2.4" fill="#00A087"/>
<circle cx="188.3" cy="144.8" r="2.4" fill="#00A087"/>
<circle cx="174" cy="155" r="2.4" fill="#91D1C2"/>
<circle cx="177" cy="155.5" r="2.4" fill="#91D1C2"/>
<circle cx="180" cy="155.2" r="2.4" fill="#91D1C2"/>
<circle cx="172.5" cy="154" r="2.4" fill="#91D1C2"/>
<circle cx="184" cy="158" r="2.4" fill="#8491B4"/>
<circle cx="185" cy="162" r="2.4" fill="#8491B4"/>
<circle cx="184.5" cy="165.2" r="2.4" fill="#8491B4"/>
<circle cx="186.5" cy="160" r="2.4" fill="#8491B4"/>
<circle cx="203" cy="155.5" r="2.4" fill="#F39B7F"/>
<circle cx="203.3" cy="158.5" r="2.4" fill="#F39B7F"/>
<circle cx="201.5" cy="159" r="2.4" fill="#E64B35"/>
<line x1="190.52" y1="142.48" x2="191.61" y2="127.45" stroke="#1E8FFF" stroke-width="0.8" />
<line x1="191.87" y1="139.48" x2="190.69" y2="130.08" stroke="#1E8FFF" stroke-width="0.8" />
<line x1="186.94" y1="140.43" x2="183.44" y2="132.95" stroke="#1E8FFF" stroke-width="0.8" />
<line x1="186.42" y1="145.86" x2="187.72" y2="130.46" stroke="#1E8FFF" stroke-width="0.8" />
<line x1="187.57" y1="138.12" x2="186.48" y2="120.95" stroke="#1E8FFF" stroke-width="0.8" />
<circle cx="186.5" cy="121.0" r="2.3" fill="none" stroke="#4DBBD5" stroke-width="0.5"/>
<line x1="192.00" y1="144.22" x2="189.79" y2="129.46" stroke="#1E8FFF" stroke-width="0.8" />
<circle cx="189.8" cy="129.5" r="2.3" fill="none" stroke="#4DBBD5" stroke-width="0.5"/>
<line x1="192.40" y1="142.00" x2="192.05" y2="127.32" stroke="#1E8FFF" stroke-width="0.8" />
<circle cx="192.0" cy="127.3" r="2.3" fill="none" stroke="#7E6148" stroke-width="0.5"/>
<line x1="195.96" y1="144.72" x2="195.85" y2="125.04" stroke="#1E8FFF" stroke-width="0.8" />
<circle cx="195.8" cy="125.0" r="2.3" fill="none" stroke="#91D1C2" stroke-width="0.5"/>
<line x1="186.30" y1="142.51" x2="182.89" y2="121.72" stroke="#1E8FFF" stroke-width="0.8" />
<circle cx="182.9" cy="121.7" r="2.3" fill="none" stroke="#4DBBD5" stroke-width="0.5"/>
<line x1="195.58" y1="144.78" x2="191.58" y2="123.36" stroke="#1E8FFF" stroke-width="0.8" />
<line x1="190.70" y1="145.84" x2="188.89" y2="121.17" stroke="#1E8FFF" stroke-width="0.8" />
<line x1="193.79" y1="140.16" x2="190.26" y2="125.32" stroke="#1E8FFF" stroke-width="0.8" />
<line x1="193.58" y1="138.94" x2="190.94" y2="121.62" stroke="#1E8FFF" stroke-width="0.8" />
<circle cx="190.9" cy="121.6" r="2.3" fill="none" stroke="#B09C85" stroke-width="0.5"/>
<line x1="187.78" y1="142.47" x2="186.24" y2="123.05" stroke="#1E8FFF" stroke-width="0.8" />
<line x1="187.31" y1="143.15" x2="183.95" y2="126.73" stroke="#1E8FFF" stroke-width="0.8" />
<circle cx="184.0" cy="126.7" r="2.3" fill="none" stroke="#91D1C2" stroke-width="0.5"/>
<line x1="194.64" y1="145.80" x2="193.90" y2="135.97" stroke="#1E8FFF" stroke-width="0.8" />
<circle cx="193.9" cy="136.0" r="2.3" fill="none" stroke="#4DBBD5" stroke-width="0.5"/>
<line x1="189.94" y1="144.84" x2="189.47" y2="121.61" stroke="#1E8FFF" stroke-width="0.8" />
<line x1="188.13" y1="140.07" x2="188.38" y2="125.26" stroke="#1E8FFF" stroke-width="0.8" />
<circle cx="188.4" cy="125.3" r="2.3" fill="none" stroke="#4DBBD5" stroke-width="0.5"/>
<line x1="193.46" y1="142.28" x2="171.69" y2="143.24" stroke="#1E8FFF" stroke-width="0.9" />
<circle cx="171.7" cy="143.2" r="2.3" fill="none" stroke="#8491B4" stroke-width="0.5"/>
<line x1="192.39" y1="145.07" x2="179.57" y2="144.92" stroke="#1E8FFF" stroke-width="0.9" />
<line x1="195.36" y1="146.85" x2="171.12" y2="146.21" stroke="#1E8FFF" stroke-width="0.9" />
<circle cx="171.1" cy="146.2" r="2.3" fill="none" stroke="#91D1C2" stroke-width="0.5"/>
<line x1="192.88" y1="148.02" x2="176.10" y2="147.65" stroke="#1E8FFF" stroke-width="0.9" />
<circle cx="176.1" cy="147.6" r="2.3" fill="none" stroke="#B09C85" stroke-width="0.5"/>
<line x1="189.73" y1="148.44" x2="173.93" y2="149.36" stroke="#1E8FFF" stroke-width="0.9" />
<line x1="190.80" y1="151.24" x2="176.90" y2="150.59" stroke="#1E8FFF" stroke-width="0.9" />
<line x1="194.04" y1="151.21" x2="171.34" y2="152.08" stroke="#1E8FFF" stroke-width="0.9" />
<circle cx="171.3" cy="152.1" r="2.3" fill="none" stroke="#8491B4" stroke-width="0.5"/>
<line x1="189.52" y1="153.17" x2="175.97" y2="153.74" stroke="#1E8FFF" stroke-width="0.9" />
<line x1="191.88" y1="154.75" x2="170.23" y2="155.25" stroke="#1E8FFF" stroke-width="0.9" />
<circle cx="170.2" cy="155.2" r="2.3" fill="none" stroke="#91D1C2" stroke-width="0.5"/>
<path d="M191.5 142.5 L199 141.5 L202 145 L202 160 L199.5 164 L193 164.5 L190 160 L189.5 150Z" fill="#1E8FFF"/>
<line x1="191.01" y1="157.16" x2="187.32" y2="156.06" stroke="#1E8FFF" stroke-width="0.9" />
<line x1="202.63" y1="159.11" x2="204.54" y2="159.78" stroke="#1E8FFF" stroke-width="0.9" />
<circle cx="204.5" cy="159.8" r="2.3" fill="none" stroke="#E64B35" stroke-width="0.5"/>
<line x1="201.55" y1="154.92" x2="200.12" y2="153.41" stroke="#1E8FFF" stroke-width="0.9" />
<circle cx="200.1" cy="153.4" r="2.3" fill="none" stroke="#8491B4" stroke-width="0.5"/>
<line x1="196.09" y1="155.09" x2="198.39" y2="153.64" stroke="#1E8FFF" stroke-width="0.9" />
<line x1="185.43" y1="156.56" x2="187.80" y2="159.76" stroke="#1E8FFF" stroke-width="0.9" />
<line x1="197.37" y1="162.25" x2="201.52" y2="161.06" stroke="#1E8FFF" stroke-width="0.9" />
<line x1="201.12" y1="164.04" x2="200.29" y2="166.36" stroke="#1E8FFF" stroke-width="0.9" />
<line x1="194.88" y1="158.37" x2="193.71" y2="159.04" stroke="#1E8FFF" stroke-width="0.9" />
<line x1="185.52" y1="158.71" x2="190.46" y2="161.74" stroke="#1E8FFF" stroke-width="0.9" />
<line x1="191.38" y1="160.91" x2="192.19" y2="160.43" stroke="#1E8FFF" stroke-width="0.9" />
<line x1="185.59" y1="161.25" x2="180.89" y2="162.07" stroke="#1E8FFF" stroke-width="0.9" />
<line x1="188.37" y1="160.06" x2="188.35" y2="160.98" stroke="#1E8FFF" stroke-width="0.9" />
<line x1="188.86" y1="144.26" x2="186.87" y2="145.69" stroke="#1E8FFF" stroke-width="0.9" />
<circle cx="186.9" cy="145.7" r="2.3" fill="none" stroke="#F39B7F" stroke-width="0.5"/>
<line x1="198.32" y1="151.88" x2="202.62" y2="151.86" stroke="#1E8FFF" stroke-width="0.9" />
<circle cx="202.6" cy="151.9" r="2.3" fill="none" stroke="#3C5488" stroke-width="0.5"/>
<line x1="196.65" y1="148.57" x2="195.96" y2="151.01" stroke="#1E8FFF" stroke-width="0.9" />
<line x1="200.73" y1="152.84" x2="201.56" y2="151.37" stroke="#1E8FFF" stroke-width="0.9" />
<circle cx="201.6" cy="151.4" r="2.3" fill="none" stroke="#3C5488" stroke-width="0.5"/>
<line x1="190.66" y1="164.60" x2="186.07" y2="161.11" stroke="#1E8FFF" stroke-width="0.9" />
<line x1="199.62" y1="146.60" x2="199.33" y2="150.00" stroke="#1E8FFF" stroke-width="0.9" />
<line x1="191.27" y1="155.96" x2="192.99" y2="157.69" stroke="#1E8FFF" stroke-width="0.9" />
<line x1="195.87" y1="151.37" x2="199.16" y2="149.59" stroke="#1E8FFF" stroke-width="0.9" />
<line x1="196.89" y1="150.46" x2="195.43" y2="151.66" stroke="#1E8FFF" stroke-width="0.9" />
<line x1="196.18" y1="153.32" x2="193.08" y2="155.47" stroke="#1E8FFF" stroke-width="0.9" />
<circle cx="193.1" cy="155.5" r="2.3" fill="none" stroke="#F39B7F" stroke-width="0.5"/>
<line x1="199.14" y1="166.63" x2="195.29" y2="163.50" stroke="#1E8FFF" stroke-width="0.9" />
<line x1="196.16" y1="152.48" x2="191.94" y2="150.06" stroke="#1E8FFF" stroke-width="0.9" />
<line x1="188.86" y1="160.43" x2="191.42" y2="160.71" stroke="#1E8FFF" stroke-width="0.9" />
<circle cx="191.4" cy="160.7" r="2.3" fill="none" stroke="#F39B7F" stroke-width="0.5"/>
<line x1="189.17" y1="151.95" x2="191.15" y2="152.12" stroke="#1E8FFF" stroke-width="0.9" />
<circle cx="171" cy="143.5" r="2.4" fill="none" stroke="#4DBBD5" stroke-width="0.6"/>
<circle cx="174" cy="144.8" r="2.4" fill="none" stroke="#4DBBD5" stroke-width="0.6"/>
<circle cx="172.5" cy="146" r="2.4" fill="none" stroke="#4DBBD5" stroke-width="0.6"/>
<line x1="193.50" y1="130.00" x2="182.00" y2="18.40" stroke="#1E8FFF" stroke-width="1.0" />
<path d="M182.0 17.4 l-1.6 3.8 l3.2 0Z" fill="#1E8FFF"/>
<circle cx="182" cy="16.4" r="2.6" fill="none" stroke="#4DBBD5" stroke-width="0.6"/>
<line x1="191.00" y1="132.00" x2="182.50" y2="62.50" stroke="#1E8FFF" stroke-width="1.0" />
<path d="M182.5 61.5 l-1.6 3.8 l3.2 0Z" fill="#1E8FFF"/>
<circle cx="182.5" cy="60.5" r="2.6" fill="none" stroke="#7E6148" stroke-width="0.6"/>
<line x1="192.50" y1="133.00" x2="182.70" y2="71.80" stroke="#1E8FFF" stroke-width="1.0" />
<path d="M182.7 70.8 l-1.6 3.8 l3.2 0Z" fill="#1E8FFF"/>
<circle cx="182.7" cy="69.8" r="2.6" fill="none" stroke="#4DBBD5" stroke-width="0.6"/>
<line x1="184.00" y1="132.00" x2="180.10" y2="102.60" stroke="#1E8FFF" stroke-width="1.0" />
<path d="M180.1 101.6 l-1.6 3.8 l3.2 0Z" fill="#1E8FFF"/>
<circle cx="180.1" cy="100.6" r="2.6" fill="none" stroke="#7E6148" stroke-width="0.6"/>
<line x1="191.00" y1="132.00" x2="188.50" y2="102.60" stroke="#1E8FFF" stroke-width="1.0" />
<path d="M188.5 101.6 l-1.6 3.8 l3.2 0Z" fill="#1E8FFF"/>
<circle cx="188.5" cy="100.6" r="2.6" fill="none" stroke="#7E6148" stroke-width="0.6"/>
<line x1="190.50" y1="134.00" x2="187.90" y2="113.70" stroke="#1E8FFF" stroke-width="1.0" />
<path d="M187.9 112.7 l-1.6 3.8 l3.2 0Z" fill="#1E8FFF"/>
<circle cx="187.9" cy="111.7" r="2.6" fill="none" stroke="#4DBBD5" stroke-width="0.6"/>
<line x1="188.00" y1="134.00" x2="185.10" y2="119.30" stroke="#1E8FFF" stroke-width="1.0" />
<path d="M185.1 118.3 l-1.6 3.8 l3.2 0Z" fill="#1E8FFF"/>
<circle cx="185.1" cy="117.3" r="2.6" fill="none" stroke="#4DBBD5" stroke-width="0.6"/>
<line x1="192.00" y1="136.00" x2="189.00" y2="116.00" stroke="#1E8FFF" stroke-width="1.0" />
<path d="M189.0 115.0 l-1.6 3.8 l3.2 0Z" fill="#1E8FFF"/>
<line x1="189.00" y1="134.00" x2="186.00" y2="108.00" stroke="#1E8FFF" stroke-width="1.0" />
<path d="M186.0 107.0 l-1.6 3.8 l3.2 0Z" fill="#1E8FFF"/>
<line x1="193.00" y1="138.00" x2="191.00" y2="123.00" stroke="#1E8FFF" stroke-width="1.0" />
<path d="M191.0 122.0 l-1.6 3.8 l3.2 0Z" fill="#1E8FFF"/>
<line x1="186.00" y1="138.00" x2="184.00" y2="126.00" stroke="#1E8FFF" stroke-width="1.0" />
<path d="M184.0 125.0 l-1.6 3.8 l3.2 0Z" fill="#1E8FFF"/>
<line x1="190.00" y1="140.00" x2="187.50" y2="121.00" stroke="#1E8FFF" stroke-width="1.0" />
<path d="M187.5 120.0 l-1.6 3.8 l3.2 0Z" fill="#1E8FFF"/>
<circle cx="193.5" cy="123" r="2.6" fill="#7E6148"/>
<line x1="212.50" y1="8.30" x2="182.30" y2="191.20" stroke="#222" stroke-width="0.7" />
<line x1="26.70" y1="102.00" x2="223.00" y2="151.80" stroke="#222" stroke-width="0.7" />
<line x1="178.00" y1="146.00" x2="36.50" y2="182.70" stroke="#1E8FFF" stroke-width="1.0" />
<path d="M36 182.8 l3.3 -2.4 l0.8 3.2Z" fill="#1E8FFF"/>
<circle cx="35.5" cy="182.8" r="2.8" fill="none" stroke="#91D1C2" stroke-width="0.7"/>
<circle cx="173" cy="145" r="2.6" fill="none" stroke="#91D1C2" stroke-width="0.6"/>
</g>
<rect x="26.7" y="8.3" width="196.3" height="182.89999999999998" fill="none" stroke="#333333" stroke-width="0.9"/>
<line x1="76.50" y1="191.20" x2="76.50" y2="193.20" stroke="#333333" stroke-width="0.7" />
<text x="0" y="0" font-size="6.4" text-anchor="middle" fill="#333333" stroke="#333333" stroke-width="0.12" transform="translate(76.50 198.80) scale(1 1.12)" >−0.50</text>
<line x1="133.50" y1="191.20" x2="133.50" y2="193.20" stroke="#333333" stroke-width="0.7" />
<text x="0" y="0" font-size="6.4" text-anchor="middle" fill="#333333" stroke="#333333" stroke-width="0.12" transform="translate(133.50 198.80) scale(1 1.12)" >−0.25</text>
<line x1="190.50" y1="191.20" x2="190.50" y2="193.20" stroke="#333333" stroke-width="0.7" />
<text x="0" y="0" font-size="6.4" text-anchor="middle" fill="#333333" stroke="#333333" stroke-width="0.12" transform="translate(190.50 198.80) scale(1 1.12)" >0.00</text>
<line x1="24.70" y1="26.90" x2="26.70" y2="26.90" stroke="#333333" stroke-width="0.7" />
<text x="0" y="0" font-size="6.4" text-anchor="end" fill="#333333" stroke="#333333" stroke-width="0.12" transform="translate(24.40 29.20) scale(1 1.12)" >0.4</text>
<line x1="24.70" y1="85.65" x2="26.70" y2="85.65" stroke="#333333" stroke-width="0.7" />
<text x="0" y="0" font-size="6.4" text-anchor="end" fill="#333333" stroke="#333333" stroke-width="0.12" transform="translate(24.40 87.95) scale(1 1.12)" >0.2</text>
<line x1="24.70" y1="144.40" x2="26.70" y2="144.40" stroke="#333333" stroke-width="0.7" />
<text x="0" y="0" font-size="6.4" text-anchor="end" fill="#333333" stroke="#333333" stroke-width="0.12" transform="translate(24.40 146.70) scale(1 1.12)" >0.0</text>
<text x="0" y="0" font-size="8.3" text-anchor="middle" fill="#111" stroke="#111" stroke-width="0.12" transform="translate(125.30 5.90) scale(1 1.12)" >Bacteria-ARG</text>
<text x="0" y="0" font-size="7.4" text-anchor="middle" fill="#111" stroke="#111" stroke-width="0.12" transform="translate(131.20 206.90) scale(1 1.12)" >Dimension 1</text>
<text x="0" y="0" font-size="7.4" text-anchor="middle" dominant-baseline="central" fill="#111" stroke="#111" stroke-width="0.12" transform="translate(8.80 100.60) rotate(-90.00) scale(1 1.12)" >Dimension 2</text>
<text x="0" y="0" font-size="5.55" text-anchor="start" fill="#111" stroke="#111" stroke-width="0.12" transform="translate(86.60 18.90) scale(1 1.12)" >M<tspan font-size="3.6" dy="-2.3">2</tspan><tspan dy="2.3"> = 0.857</tspan></text>
<text x="0" y="0" font-size="5.55" text-anchor="start" fill="#111" stroke="#111" stroke-width="0.12" transform="translate(86.60 24.70) scale(1 1.12)" >P = 0.001</text>
<text x="0" y="0" font-size="6.6" text-anchor="start" fill="#111" stroke="#111" stroke-width="0.12" transform="translate(34.00 15.80) scale(1 1.12)" >Group</text>
<circle cx="32.9" cy="20.80" r="2.65" fill="#E64B35"/>
<text x="0" y="0" font-size="5.6" text-anchor="start" fill="#111" stroke="#111" stroke-width="0.12" transform="translate(36.60 22.80) scale(1 1.12)" >Rural_SY</text>
<circle cx="32.9" cy="27.70" r="2.65" fill="#4DBBD5"/>
<text x="0" y="0" font-size="5.6" text-anchor="start" fill="#111" stroke="#111" stroke-width="0.12" transform="translate(36.60 29.70) scale(1 1.12)" >Rural_YJ</text>
<circle cx="32.9" cy="34.60" r="2.65" fill="#00A087"/>
<text x="0" y="0" font-size="5.6" text-anchor="start" fill="#111" stroke="#111" stroke-width="0.12" transform="translate(36.60 36.60) scale(1 1.12)" >Subadult_female</text>
<circle cx="32.9" cy="41.50" r="2.65" fill="#3C5488"/>
<text x="0" y="0" font-size="5.6" text-anchor="start" fill="#111" stroke="#111" stroke-width="0.12" transform="translate(36.60 43.50) scale(1 1.12)" >Subadult_male</text>
<circle cx="32.9" cy="48.40" r="2.65" fill="#F39B7F"/>
<text x="0" y="0" font-size="5.6" text-anchor="start" fill="#111" stroke="#111" stroke-width="0.12" transform="translate(36.60 50.40) scale(1 1.12)" >t1</text>
<circle cx="32.9" cy="55.30" r="2.65" fill="#8491B4"/>
<text x="0" y="0" font-size="5.6" text-anchor="start" fill="#111" stroke="#111" stroke-width="0.12" transform="translate(36.60 57.30) scale(1 1.12)" >t2</text>
<circle cx="32.9" cy="62.20" r="2.65" fill="#91D1C2"/>
<text x="0" y="0" font-size="5.6" text-anchor="start" fill="#111" stroke="#111" stroke-width="0.12" transform="translate(36.60 64.20) scale(1 1.12)" >t3</text>
<circle cx="32.9" cy="69.10" r="2.65" fill="#DC0000"/>
<text x="0" y="0" font-size="5.6" text-anchor="start" fill="#111" stroke="#111" stroke-width="0.12" transform="translate(36.60 71.10) scale(1 1.12)" >t4</text>
<circle cx="32.9" cy="76.00" r="2.65" fill="#7E6148"/>
<text x="0" y="0" font-size="5.6" text-anchor="start" fill="#111" stroke="#111" stroke-width="0.12" transform="translate(36.60 78.00) scale(1 1.12)" >t5</text>
<circle cx="32.9" cy="82.90" r="2.65" fill="#B09C85"/>
<text x="0" y="0" font-size="5.6" text-anchor="start" fill="#111" stroke="#111" stroke-width="0.12" transform="translate(36.60 84.90) scale(1 1.12)" >t6</text>
<g clip-path="url(#cb)">
<line x1="282.70" y1="8.30" x2="282.70" y2="191.20" stroke="#BDBDBD" stroke-width="0.8" stroke-dasharray="3 3"/>
<line x1="245.50" y1="112.20" x2="439.50" y2="112.20" stroke="#BDBDBD" stroke-width="0.8" stroke-dasharray="3 3"/>
<circle cx="278.2" cy="102.2" r="2.5" fill="#3C5488"/>
<circle cx="256.8" cy="112.6" r="2.5" fill="#91D1C2"/>
<circle cx="258.2" cy="102.4" r="2.5" fill="#E64B35"/>
<circle cx="266.1" cy="109.7" r="2.5" fill="#B09C85"/>
<circle cx="274.9" cy="100.2" r="2.5" fill="#8491B4"/>
<circle cx="268.8" cy="107.9" r="2.5" fill="#3C5488"/>
<circle cx="257.2" cy="113.0" r="2.5" fill="#4DBBD5"/>
<circle cx="260.8" cy="102.4" r="2.5" fill="#91D1C2"/>
<circle cx="285.4" cy="113.2" r="2.5" fill="#8491B4"/>
<circle cx="262.4" cy="107.3" r="2.5" fill="#E64B35"/>
<circle cx="265.2" cy="111.9" r="2.5" fill="#7E6148"/>
<circle cx="267.5" cy="110.3" r="2.5" fill="#F39B7F"/>
<circle cx="269.6" cy="115.5" r="2.5" fill="#4DBBD5"/>
<circle cx="267.7" cy="109.4" r="2.5" fill="#E64B35"/>
<circle cx="259.5" cy="104.2" r="2.5" fill="#00A087"/>
<circle cx="269.1" cy="114.4" r="2.5" fill="#7E6148"/>
<circle cx="282.8" cy="101.7" r="2.5" fill="#DC0000"/>
<circle cx="284.3" cy="107.3" r="2.5" fill="#DC0000"/>
<circle cx="272.5" cy="105.4" r="2.5" fill="#DC0000"/>
<circle cx="270.9" cy="101.4" r="2.5" fill="#F39B7F"/>
<circle cx="280.6" cy="105.7" r="2.5" fill="#7E6148"/>
<circle cx="281.0" cy="107.1" r="2.5" fill="#7E6148"/>
<circle cx="262.2" cy="103.0" r="2.5" fill="#B09C85"/>
<circle cx="260.7" cy="98.8" r="2.5" fill="#00A087"/>
<circle cx="285.0" cy="102.6" r="2.5" fill="#3C5488"/>
<circle cx="267.2" cy="107.2" r="2.5" fill="#4DBBD5"/>
<circle cx="270.1" cy="107.2" r="2.5" fill="#E64B35"/>
<circle cx="270.5" cy="107.4" r="2.5" fill="#91D1C2"/>
<circle cx="271.4" cy="110.1" r="2.5" fill="#4DBBD5"/>
<circle cx="276.1" cy="107.9" r="2.5" fill="#4DBBD5"/>
<circle cx="283.8" cy="98.9" r="2.5" fill="#91D1C2"/>
<circle cx="262.6" cy="110.4" r="2.5" fill="#DC0000"/>
<circle cx="269.8" cy="103.2" r="2.5" fill="#DC0000"/>
<circle cx="270.8" cy="115.6" r="2.5" fill="#4DBBD5"/>
<circle cx="260.1" cy="100.9" r="2.5" fill="#00A087"/>
<circle cx="276.5" cy="101.5" r="2.5" fill="#E64B35"/>
<circle cx="255.1" cy="108.4" r="2.5" fill="#F39B7F"/>
<circle cx="264.3" cy="108.5" r="2.5" fill="#8491B4"/>
<circle cx="261.8" cy="103.1" r="2.5" fill="#B09C85"/>
<circle cx="257.9" cy="108.0" r="2.5" fill="#7E6148"/>
<circle cx="274.0" cy="106.7" r="2.5" fill="#91D1C2"/>
<circle cx="254.7" cy="101.6" r="2.5" fill="#91D1C2"/>
<circle cx="280.4" cy="104.1" r="2.5" fill="#7E6148"/>
<circle cx="274.4" cy="104.5" r="2.5" fill="#7E6148"/>
<circle cx="260.9" cy="102.6" r="2.5" fill="#00A087"/>
<circle cx="261.4" cy="106.5" r="2.5" fill="#8491B4"/>
<circle cx="282.9" cy="106.5" r="2.5" fill="#3C5488"/>
<circle cx="261.0" cy="111.3" r="2.5" fill="#3C5488"/>
<circle cx="282.4" cy="110.1" r="2.5" fill="#4DBBD5"/>
<circle cx="262.3" cy="110.3" r="2.5" fill="#4DBBD5"/>
<circle cx="294.9" cy="111.6" r="2.5" fill="#4DBBD5"/>
<circle cx="289.0" cy="105.9" r="2.5" fill="#E64B35"/>
<circle cx="286.4" cy="104.5" r="2.5" fill="#DC0000"/>
<circle cx="286.9" cy="106.1" r="2.5" fill="#4DBBD5"/>
<circle cx="299.9" cy="100.5" r="2.5" fill="#3C5488"/>
<circle cx="304.1" cy="118.1" r="2.5" fill="#4DBBD5"/>
<circle cx="286.7" cy="111.8" r="2.5" fill="#4DBBD5"/>
<circle cx="306.6" cy="108.5" r="2.5" fill="#4DBBD5"/>
<circle cx="287.7" cy="108.4" r="2.5" fill="#4DBBD5"/>
<circle cx="308.8" cy="109.7" r="2.5" fill="#4DBBD5"/>
<circle cx="298.5" cy="111.0" r="2.5" fill="#4DBBD5"/>
<circle cx="303.1" cy="111.5" r="2.5" fill="#DC0000"/>
<circle cx="293.8" cy="104.6" r="2.5" fill="#3C5488"/>
<circle cx="299.0" cy="109.0" r="2.5" fill="#E64B35"/>
<circle cx="299.9" cy="109.8" r="2.5" fill="#7E6148"/>
<circle cx="295.3" cy="108.1" r="2.5" fill="#DC0000"/>
<circle cx="294.1" cy="108.2" r="2.5" fill="#4DBBD5"/>
<circle cx="303.8" cy="109.5" r="2.5" fill="#DC0000"/>
<circle cx="306.3" cy="109.2" r="2.5" fill="#7E6148"/>
<circle cx="298.2" cy="102.3" r="2.5" fill="#3C5488"/>
<circle cx="296.6" cy="113.8" r="2.5" fill="#3C5488"/>
<circle cx="291.0" cy="106.8" r="2.5" fill="#4DBBD5"/>
<circle cx="302.6" cy="108.6" r="2.5" fill="#7E6148"/>
<circle cx="287.3" cy="101.2" r="2.5" fill="#DC0000"/>
<circle cx="306.0" cy="105.5" r="2.5" fill="#4DBBD5"/>
<circle cx="294.1" cy="101.9" r="2.5" fill="#4DBBD5"/>
<circle cx="262.8" cy="120.1" r="2.5" fill="#4DBBD5"/>
<circle cx="264.0" cy="128.3" r="2.5" fill="#91D1C2"/>
<circle cx="269.3" cy="129.2" r="2.5" fill="#B09C85"/>
<circle cx="273.5" cy="124.9" r="2.5" fill="#7E6148"/>
<circle cx="281.3" cy="120.8" r="2.5" fill="#4DBBD5"/>
<circle cx="285.7" cy="125.5" r="2.5" fill="#8491B4"/>
<circle cx="299.2" cy="115.3" r="2.5" fill="#91D1C2"/>
<circle cx="289.6" cy="118.8" r="2.5" fill="#8491B4"/>
<circle cx="280.2" cy="126.4" r="2.5" fill="#8491B4"/>
<circle cx="260.4" cy="118.9" r="2.5" fill="#B09C85"/>
<circle cx="296.2" cy="123.3" r="2.5" fill="#8491B4"/>
<circle cx="276.6" cy="122.8" r="2.5" fill="#91D1C2"/>
<circle cx="285.5" cy="127.1" r="2.5" fill="#91D1C2"/>
<circle cx="282.0" cy="125.0" r="2.5" fill="#91D1C2"/>
<circle cx="275.5" cy="129.1" r="2.5" fill="#8491B4"/>
<circle cx="278.9" cy="117.5" r="2.5" fill="#4DBBD5"/>
<circle cx="281.7" cy="123.9" r="2.5" fill="#8491B4"/>
<circle cx="297.8" cy="121.3" r="2.5" fill="#8491B4"/>
<circle cx="275.9" cy="119.7" r="2.5" fill="#8491B4"/>
<circle cx="271.4" cy="124.8" r="2.5" fill="#8491B4"/>
<circle cx="297.2" cy="125.0" r="2.5" fill="#B09C85"/>
<circle cx="261.1" cy="126.6" r="2.5" fill="#91D1C2"/>
<line x1="278.20" y1="102.16" x2="269.76" y2="98.50" stroke="#FF3366" stroke-width="0.85" />
<line x1="256.79" y1="112.62" x2="255.90" y2="112.61" stroke="#FF3366" stroke-width="0.85" />
<line x1="258.16" y1="102.36" x2="253.00" y2="98.61" stroke="#FF3366" stroke-width="0.85" />
<line x1="266.06" y1="109.69" x2="262.11" y2="106.31" stroke="#FF3366" stroke-width="0.85" />
<line x1="274.89" y1="100.23" x2="269.84" y2="105.10" stroke="#FF3366" stroke-width="0.85" />
<circle cx="269.8" cy="105.1" r="2.4" fill="none" stroke="#8491B4" stroke-width="0.5"/>
<line x1="268.84" y1="107.87" x2="271.26" y2="110.57" stroke="#FF3366" stroke-width="0.85" />
<line x1="257.17" y1="113.01" x2="259.98" y2="119.00" stroke="#FF3366" stroke-width="0.85" />
<circle cx="260.0" cy="119.0" r="2.4" fill="none" stroke="#4DBBD5" stroke-width="0.5"/>
<line x1="260.83" y1="102.40" x2="255.39" y2="100.32" stroke="#FF3366" stroke-width="0.85" />
<line x1="285.38" y1="113.16" x2="287.70" y2="116.85" stroke="#FF3366" stroke-width="0.85" />
<line x1="262.38" y1="107.26" x2="260.06" y2="109.01" stroke="#FF3366" stroke-width="0.85" />
<circle cx="260.1" cy="109.0" r="2.4" fill="none" stroke="#E64B35" stroke-width="0.5"/>
<line x1="265.15" y1="111.93" x2="254.28" y2="113.29" stroke="#FF3366" stroke-width="0.85" />
<line x1="267.49" y1="110.25" x2="260.51" y2="106.22" stroke="#FF3366" stroke-width="0.85" />
<line x1="269.60" y1="115.52" x2="265.68" y2="112.78" stroke="#FF3366" stroke-width="0.85" />
<circle cx="265.7" cy="112.8" r="2.4" fill="none" stroke="#4DBBD5" stroke-width="0.5"/>
<line x1="267.73" y1="109.36" x2="266.68" y2="111.26" stroke="#FF3366" stroke-width="0.85" />
<line x1="259.53" y1="104.23" x2="253.00" y2="107.12" stroke="#FF3366" stroke-width="0.85" />
<line x1="269.06" y1="114.37" x2="263.00" y2="118.11" stroke="#FF3366" stroke-width="0.85" />
<line x1="282.82" y1="101.72" x2="276.80" y2="98.56" stroke="#FF3366" stroke-width="0.85" />
<circle cx="276.8" cy="98.6" r="2.4" fill="none" stroke="#DC0000" stroke-width="0.5"/>
<line x1="284.26" y1="107.28" x2="280.08" y2="114.88" stroke="#FF3366" stroke-width="0.85" />
<line x1="272.53" y1="105.36" x2="265.63" y2="102.46" stroke="#FF3366" stroke-width="0.85" />
<line x1="270.85" y1="101.44" x2="265.38" y2="100.09" stroke="#FF3366" stroke-width="0.85" />
<circle cx="265.4" cy="100.1" r="2.4" fill="none" stroke="#F39B7F" stroke-width="0.5"/>
<line x1="280.60" y1="105.67" x2="276.97" y2="104.83" stroke="#FF3366" stroke-width="0.85" />
<circle cx="277.0" cy="104.8" r="2.4" fill="none" stroke="#7E6148" stroke-width="0.5"/>
<line x1="281.00" y1="107.05" x2="274.51" y2="111.84" stroke="#FF3366" stroke-width="0.85" />
<line x1="262.21" y1="103.04" x2="259.15" y2="104.21" stroke="#FF3366" stroke-width="0.85" />
<line x1="260.66" y1="98.80" x2="253.00" y2="98.13" stroke="#FF3366" stroke-width="0.85" />
<line x1="284.99" y1="102.58" x2="277.32" y2="101.65" stroke="#FF3366" stroke-width="0.85" />
<line x1="267.15" y1="107.17" x2="263.91" y2="102.56" stroke="#FF3366" stroke-width="0.85" />
<line x1="270.10" y1="107.21" x2="269.60" y2="101.11" stroke="#FF3366" stroke-width="0.85" />
<line x1="270.51" y1="107.39" x2="265.43" y2="102.91" stroke="#FF3366" stroke-width="0.85" />
<circle cx="265.4" cy="102.9" r="2.4" fill="none" stroke="#91D1C2" stroke-width="0.5"/>
<line x1="271.41" y1="110.14" x2="271.83" y2="114.61" stroke="#FF3366" stroke-width="0.85" />
<line x1="276.11" y1="107.86" x2="268.97" y2="112.57" stroke="#FF3366" stroke-width="0.85" />
<line x1="283.79" y1="98.86" x2="281.73" y2="102.52" stroke="#FF3366" stroke-width="0.85" />
<line x1="262.61" y1="110.41" x2="253.31" y2="110.15" stroke="#FF3366" stroke-width="0.85" />
<line x1="269.78" y1="103.18" x2="258.88" y2="104.06" stroke="#FF3366" stroke-width="0.85" />
<line x1="270.80" y1="115.63" x2="256.73" y2="116.12" stroke="#FF3366" stroke-width="0.85" />
<circle cx="256.7" cy="116.1" r="2.4" fill="none" stroke="#4DBBD5" stroke-width="0.5"/>
<line x1="260.13" y1="100.94" x2="253.00" y2="107.09" stroke="#FF3366" stroke-width="0.85" />
<line x1="276.47" y1="101.54" x2="269.49" y2="96.70" stroke="#FF3366" stroke-width="0.85" />
<line x1="255.14" y1="108.36" x2="253.00" y2="113.74" stroke="#FF3366" stroke-width="0.85" />
<circle cx="253.0" cy="113.7" r="2.4" fill="none" stroke="#F39B7F" stroke-width="0.5"/>
<line x1="264.31" y1="108.54" x2="256.86" y2="104.94" stroke="#FF3366" stroke-width="0.85" />
<line x1="261.82" y1="103.06" x2="254.45" y2="105.45" stroke="#FF3366" stroke-width="0.85" />
<line x1="257.93" y1="108.04" x2="259.16" y2="103.97" stroke="#FF3366" stroke-width="0.85" />
<circle cx="259.2" cy="104.0" r="2.4" fill="none" stroke="#7E6148" stroke-width="0.5"/>
<line x1="273.95" y1="106.68" x2="253.62" y2="103.62" stroke="#FF3366" stroke-width="0.85" />
<line x1="254.74" y1="101.60" x2="253.00" y2="109.63" stroke="#FF3366" stroke-width="0.85" />
<line x1="280.41" y1="104.10" x2="273.32" y2="102.95" stroke="#FF3366" stroke-width="0.85" />
<line x1="274.43" y1="104.53" x2="276.86" y2="104.32" stroke="#FF3366" stroke-width="0.85" />
<line x1="260.92" y1="102.62" x2="258.26" y2="96.12" stroke="#FF3366" stroke-width="0.85" />
<line x1="261.45" y1="106.51" x2="254.21" y2="106.80" stroke="#FF3366" stroke-width="0.85" />
<line x1="282.89" y1="106.53" x2="278.84" y2="106.89" stroke="#FF3366" stroke-width="0.85" />
<line x1="260.98" y1="111.34" x2="261.57" y2="105.28" stroke="#FF3366" stroke-width="0.85" />
<circle cx="261.6" cy="105.3" r="2.4" fill="none" stroke="#3C5488" stroke-width="0.5"/>
<line x1="282.40" y1="110.07" x2="280.15" y2="109.80" stroke="#FF3366" stroke-width="0.85" />
<circle cx="280.1" cy="109.8" r="2.4" fill="none" stroke="#4DBBD5" stroke-width="0.5"/>
<line x1="262.30" y1="110.32" x2="266.81" y2="110.26" stroke="#FF3366" stroke-width="0.85" />
<line x1="294.87" y1="111.59" x2="287.15" y2="110.32" stroke="#FF3366" stroke-width="0.85" />
<line x1="289.02" y1="105.92" x2="282.99" y2="107.99" stroke="#FF3366" stroke-width="0.85" />
<circle cx="283.0" cy="108.0" r="2.4" fill="none" stroke="#E64B35" stroke-width="0.5"/>
<line x1="286.40" y1="104.52" x2="281.95" y2="105.15" stroke="#FF3366" stroke-width="0.85" />
<line x1="286.89" y1="106.10" x2="290.42" y2="109.27" stroke="#FF3366" stroke-width="0.85" />
<line x1="299.87" y1="100.47" x2="294.50" y2="97.09" stroke="#FF3366" stroke-width="0.85" />
<line x1="304.07" y1="118.05" x2="297.16" y2="120.88" stroke="#FF3366" stroke-width="0.85" />
<line x1="286.65" y1="111.81" x2="284.24" y2="109.28" stroke="#FF3366" stroke-width="0.85" />
<circle cx="284.2" cy="109.3" r="2.4" fill="none" stroke="#4DBBD5" stroke-width="0.5"/>
<line x1="306.63" y1="108.53" x2="293.62" y2="108.94" stroke="#FF3366" stroke-width="0.85" />
<circle cx="293.6" cy="108.9" r="2.4" fill="none" stroke="#4DBBD5" stroke-width="0.5"/>
<line x1="287.66" y1="108.45" x2="282.53" y2="107.82" stroke="#FF3366" stroke-width="0.85" />
<line x1="308.76" y1="109.67" x2="309.37" y2="109.42" stroke="#FF3366" stroke-width="0.85" />
<circle cx="309.4" cy="109.4" r="2.4" fill="none" stroke="#4DBBD5" stroke-width="0.5"/>
<line x1="298.49" y1="111.01" x2="292.94" y2="111.91" stroke="#FF3366" stroke-width="0.85" />
<line x1="303.12" y1="111.46" x2="298.05" y2="111.29" stroke="#FF3366" stroke-width="0.85" />
<line x1="293.77" y1="104.57" x2="292.18" y2="104.66" stroke="#FF3366" stroke-width="0.85" />
<line x1="299.02" y1="108.96" x2="298.26" y2="107.82" stroke="#FF3366" stroke-width="0.85" />
<circle cx="298.3" cy="107.8" r="2.4" fill="none" stroke="#E64B35" stroke-width="0.5"/>
<line x1="299.85" y1="109.76" x2="290.84" y2="106.34" stroke="#FF3366" stroke-width="0.85" />
<line x1="295.35" y1="108.09" x2="286.64" y2="110.45" stroke="#FF3366" stroke-width="0.85" />
<circle cx="286.6" cy="110.5" r="2.4" fill="none" stroke="#DC0000" stroke-width="0.5"/>
<line x1="294.13" y1="108.21" x2="294.39" y2="105.99" stroke="#FF3366" stroke-width="0.85" />
<line x1="303.81" y1="109.48" x2="298.85" y2="111.13" stroke="#FF3366" stroke-width="0.85" />
<line x1="306.33" y1="109.24" x2="309.45" y2="106.61" stroke="#FF3366" stroke-width="0.85" />
<circle cx="309.5" cy="106.6" r="2.4" fill="none" stroke="#7E6148" stroke-width="0.5"/>
<line x1="298.24" y1="102.32" x2="285.33" y2="102.96" stroke="#FF3366" stroke-width="0.85" />
<line x1="296.61" y1="113.79" x2="294.13" y2="116.47" stroke="#FF3366" stroke-width="0.85" />
<line x1="290.99" y1="106.81" x2="282.42" y2="104.82" stroke="#FF3366" stroke-width="0.85" />
<line x1="302.61" y1="108.62" x2="288.70" y2="110.89" stroke="#FF3366" stroke-width="0.85" />
<line x1="287.33" y1="101.17" x2="293.29" y2="97.41" stroke="#FF3366" stroke-width="0.85" />
<line x1="306.00" y1="105.47" x2="307.90" y2="104.12" stroke="#FF3366" stroke-width="0.85" />
<line x1="294.14" y1="101.88" x2="285.09" y2="102.17" stroke="#FF3366" stroke-width="0.85" />
<line x1="262.82" y1="120.13" x2="253.23" y2="114.04" stroke="#FF3366" stroke-width="0.85" />
<circle cx="253.2" cy="114.0" r="2.4" fill="none" stroke="#4DBBD5" stroke-width="0.5"/>
<line x1="264.03" y1="128.32" x2="262.32" y2="124.63" stroke="#FF3366" stroke-width="0.85" />
<circle cx="262.3" cy="124.6" r="2.4" fill="none" stroke="#91D1C2" stroke-width="0.5"/>
<line x1="269.28" y1="129.17" x2="270.23" y2="132.85" stroke="#FF3366" stroke-width="0.85" />
<line x1="273.51" y1="124.90" x2="270.90" y2="118.10" stroke="#FF3366" stroke-width="0.85" />
<line x1="281.32" y1="120.84" x2="286.94" y2="122.67" stroke="#FF3366" stroke-width="0.85" />
<line x1="285.69" y1="125.52" x2="288.32" y2="119.11" stroke="#FF3366" stroke-width="0.85" />
<line x1="299.20" y1="115.34" x2="295.32" y2="118.48" stroke="#FF3366" stroke-width="0.85" />
<line x1="289.55" y1="118.85" x2="278.13" y2="121.45" stroke="#FF3366" stroke-width="0.85" />
<circle cx="278.1" cy="121.5" r="2.4" fill="none" stroke="#8491B4" stroke-width="0.5"/>
<line x1="280.19" y1="126.42" x2="282.83" y2="121.94" stroke="#FF3366" stroke-width="0.85" />
<circle cx="282.8" cy="121.9" r="2.4" fill="none" stroke="#8491B4" stroke-width="0.5"/>
<line x1="260.43" y1="118.88" x2="255.07" y2="113.02" stroke="#FF3366" stroke-width="0.85" />
<line x1="296.23" y1="123.25" x2="298.38" y2="124.53" stroke="#FF3366" stroke-width="0.85" />
<circle cx="298.4" cy="124.5" r="2.4" fill="none" stroke="#8491B4" stroke-width="0.5"/>
<line x1="276.63" y1="122.81" x2="274.78" y2="129.29" stroke="#FF3366" stroke-width="0.85" />
<circle cx="274.8" cy="129.3" r="2.4" fill="none" stroke="#91D1C2" stroke-width="0.5"/>
<line x1="285.52" y1="127.14" x2="283.74" y2="128.50" stroke="#FF3366" stroke-width="0.85" />
<line x1="281.98" y1="125.03" x2="266.64" y2="122.74" stroke="#FF3366" stroke-width="0.85" />
<line x1="275.46" y1="129.08" x2="277.66" y2="130.97" stroke="#FF3366" stroke-width="0.85" />
<line x1="278.87" y1="117.54" x2="272.89" y2="116.51" stroke="#FF3366" stroke-width="0.85" />
<circle cx="272.9" cy="116.5" r="2.4" fill="none" stroke="#4DBBD5" stroke-width="0.5"/>
<line x1="281.68" y1="123.95" x2="279.33" y2="127.91" stroke="#FF3366" stroke-width="0.85" />
<line x1="297.81" y1="121.31" x2="292.53" y2="121.61" stroke="#FF3366" stroke-width="0.85" />
<line x1="275.94" y1="119.69" x2="258.85" y2="119.00" stroke="#FF3366" stroke-width="0.85" />
<line x1="271.43" y1="124.83" x2="264.37" y2="127.09" stroke="#FF3366" stroke-width="0.85" />
<line x1="297.18" y1="124.95" x2="300.59" y2="124.88" stroke="#FF3366" stroke-width="0.85" />
<circle cx="300.6" cy="124.9" r="2.4" fill="none" stroke="#B09C85" stroke-width="0.5"/>
<line x1="261.07" y1="126.59" x2="258.53" y2="126.45" stroke="#FF3366" stroke-width="0.85" />
<line x1="261.16" y1="102.08" x2="261.99" y2="99.82" stroke="#FF3366" stroke-width="0.9" />
<line x1="253.78" y1="110.69" x2="253.00" y2="107.00" stroke="#FF3366" stroke-width="0.9" />
<line x1="265.14" y1="109.89" x2="266.37" y2="104.54" stroke="#FF3366" stroke-width="0.9" />
<line x1="271.80" y1="102.72" x2="275.11" y2="101.30" stroke="#FF3366" stroke-width="0.9" />
<line x1="255.37" y1="101.23" x2="255.35" y2="95.42" stroke="#FF3366" stroke-width="0.9" />
<line x1="266.26" y1="102.91" x2="269.95" y2="104.25" stroke="#FF3366" stroke-width="0.9" />
<line x1="263.76" y1="109.35" x2="261.96" y2="112.09" stroke="#FF3366" stroke-width="0.9" />
<line x1="256.87" y1="109.08" x2="253.00" y2="110.19" stroke="#FF3366" stroke-width="0.9" />
<line x1="273.27" y1="111.33" x2="278.29" y2="114.60" stroke="#FF3366" stroke-width="0.9" />
<line x1="267.83" y1="110.37" x2="273.91" y2="111.22" stroke="#FF3366" stroke-width="0.9" />
<line x1="265.15" y1="106.24" x2="274.85" y2="107.44" stroke="#FF3366" stroke-width="0.9" />
<line x1="255.79" y1="110.78" x2="253.00" y2="115.18" stroke="#FF3366" stroke-width="0.9" />
<line x1="269.19" y1="107.03" x2="270.30" y2="109.36" stroke="#FF3366" stroke-width="0.9" />
<line x1="263.31" y1="103.72" x2="269.79" y2="101.62" stroke="#FF3366" stroke-width="0.9" />
<line x1="264.71" y1="102.55" x2="261.19" y2="107.20" stroke="#FF3366" stroke-width="0.9" />
<line x1="266.59" y1="119.64" x2="261.85" y2="119.10" stroke="#FF3366" stroke-width="0.9" />
<line x1="268.09" y1="111.17" x2="261.65" y2="112.67" stroke="#FF3366" stroke-width="0.9" />
<line x1="267.64" y1="111.45" x2="266.63" y2="113.60" stroke="#FF3366" stroke-width="0.9" />
<line x1="264.87" y1="105.02" x2="259.93" y2="104.28" stroke="#FF3366" stroke-width="0.9" />
<line x1="266.90" y1="113.48" x2="259.91" y2="113.12" stroke="#FF3366" stroke-width="0.9" />
<line x1="270.84" y1="116.82" x2="278.79" y2="116.77" stroke="#FF3366" stroke-width="0.9" />
<line x1="273.74" y1="105.97" x2="281.25" y2="106.73" stroke="#FF3366" stroke-width="0.9" />
<line x1="266.59" y1="105.87" x2="260.72" y2="106.36" stroke="#FF3366" stroke-width="0.9" />
<line x1="264.57" y1="109.52" x2="267.95" y2="107.42" stroke="#FF3366" stroke-width="0.9" />
<line x1="271.29" y1="105.06" x2="270.70" y2="102.28" stroke="#FF3366" stroke-width="0.9" />
<line x1="258.59" y1="105.88" x2="267.26" y2="108.07" stroke="#FF3366" stroke-width="0.9" />
<line x1="271.27" y1="113.77" x2="275.53" y2="111.84" stroke="#FF3366" stroke-width="0.9" />
<line x1="275.24" y1="115.39" x2="283.03" y2="115.50" stroke="#FF3366" stroke-width="0.9" />
<line x1="258.83" y1="113.09" x2="256.11" y2="114.99" stroke="#FF3366" stroke-width="0.9" />
<line x1="256.29" y1="103.80" x2="253.00" y2="104.79" stroke="#FF3366" stroke-width="0.9" />
<line x1="269.06" y1="98.97" x2="273.03" y2="98.95" stroke="#FF3366" stroke-width="0.9" />
<line x1="266.48" y1="100.25" x2="272.56" y2="97.82" stroke="#FF3366" stroke-width="0.9" />
<line x1="258.98" y1="102.76" x2="262.18" y2="105.72" stroke="#FF3366" stroke-width="0.9" />
<line x1="273.79" y1="109.01" x2="278.09" y2="111.38" stroke="#FF3366" stroke-width="0.9" />
<line x1="264.22" y1="109.82" x2="264.57" y2="115.53" stroke="#FF3366" stroke-width="0.9" />
<line x1="276.74" y1="110.31" x2="275.23" y2="105.28" stroke="#FF3366" stroke-width="0.9" />
<line x1="259.74" y1="110.68" x2="264.07" y2="112.63" stroke="#FF3366" stroke-width="0.9" />
<line x1="277.44" y1="102.66" x2="272.07" y2="101.27" stroke="#FF3366" stroke-width="0.9" />
<line x1="263.31" y1="116.23" x2="254.22" y2="117.50" stroke="#FF3366" stroke-width="0.9" />
<line x1="261.55" y1="101.05" x2="264.37" y2="102.58" stroke="#FF3366" stroke-width="0.9" />
<line x1="271.40" y1="106.66" x2="265.51" y2="106.20" stroke="#FF3366" stroke-width="0.9" />
<line x1="280.01" y1="109.32" x2="277.92" y2="113.53" stroke="#FF3366" stroke-width="0.9" />
<line x1="260.23" y1="109.58" x2="256.51" y2="114.19" stroke="#FF3366" stroke-width="0.9" />
<line x1="275.85" y1="102.49" x2="276.17" y2="107.83" stroke="#FF3366" stroke-width="0.9" />
<line x1="266.63" y1="116.12" x2="272.87" y2="115.47" stroke="#FF3366" stroke-width="0.9" />
<line x1="277.25" y1="113.40" x2="269.95" y2="112.12" stroke="#FF3366" stroke-width="0.9" />
<line x1="278.45" y1="104.98" x2="286.56" y2="104.96" stroke="#FF3366" stroke-width="0.9" />
<line x1="270.31" y1="105.23" x2="263.65" y2="104.04" stroke="#FF3366" stroke-width="0.9" />
<line x1="270.84" y1="112.97" x2="267.44" y2="114.06" stroke="#FF3366" stroke-width="0.9" />
<line x1="273.09" y1="110.11" x2="279.37" y2="114.12" stroke="#FF3366" stroke-width="0.9" />
<line x1="259.65" y1="105.98" x2="257.34" y2="110.64" stroke="#FF3366" stroke-width="0.9" />
<line x1="269.95" y1="108.37" x2="264.22" y2="109.71" stroke="#FF3366" stroke-width="0.9" />
<line x1="262.48" y1="107.58" x2="260.84" y2="104.99" stroke="#FF3366" stroke-width="0.9" />
<line x1="263.52" y1="112.13" x2="261.47" y2="115.05" stroke="#FF3366" stroke-width="0.9" />
<line x1="273.00" y1="113.43" x2="274.52" y2="108.01" stroke="#FF3366" stroke-width="0.9" />
<line x1="269.77" y1="115.57" x2="268.56" y2="113.65" stroke="#FF3366" stroke-width="0.9" />
<line x1="260.82" y1="115.25" x2="263.33" y2="114.15" stroke="#FF3366" stroke-width="0.9" />
<line x1="259.37" y1="103.35" x2="253.11" y2="101.86" stroke="#FF3366" stroke-width="0.9" />
<line x1="267.37" y1="117.74" x2="274.84" y2="117.06" stroke="#FF3366" stroke-width="0.9" />
<line x1="261.86" y1="114.93" x2="266.63" y2="114.22" stroke="#FF3366" stroke-width="0.9" />
<line x1="254.28" y1="111.94" x2="253.00" y2="116.95" stroke="#FF3366" stroke-width="0.9" />
<line x1="267.22" y1="103.93" x2="271.60" y2="108.66" stroke="#FF3366" stroke-width="0.9" />
<line x1="273.24" y1="112.22" x2="272.28" y2="117.01" stroke="#FF3366" stroke-width="0.9" />
<line x1="260.56" y1="107.97" x2="259.30" y2="113.09" stroke="#FF3366" stroke-width="0.9" />
<line x1="262.81" y1="107.70" x2="253.02" y2="107.11" stroke="#FF3366" stroke-width="0.9" />
<line x1="269.25" y1="106.46" x2="269.84" y2="108.79" stroke="#FF3366" stroke-width="0.9" />
<line x1="262.42" y1="104.12" x2="270.78" y2="106.73" stroke="#FF3366" stroke-width="0.9" />
<line x1="278.68" y1="111.90" x2="285.78" y2="112.09" stroke="#FF3366" stroke-width="0.9" />
<line x1="259.36" y1="107.03" x2="255.59" y2="105.99" stroke="#FF3366" stroke-width="0.9" />
<line x1="270.20" y1="107.81" x2="273.70" y2="112.22" stroke="#FF3366" stroke-width="0.9" />
<line x1="277.30" y1="109.27" x2="282.72" y2="113.80" stroke="#FF3366" stroke-width="0.9" />
<line x1="255.56" y1="101.82" x2="253.00" y2="100.90" stroke="#FF3366" stroke-width="0.9" />
<line x1="267.78" y1="107.11" x2="275.54" y2="109.09" stroke="#FF3366" stroke-width="0.9" />
<line x1="270.82" y1="106.11" x2="267.61" y2="106.31" stroke="#FF3366" stroke-width="0.9" />
<line x1="262.86" y1="115.24" x2="256.32" y2="110.80" stroke="#FF3366" stroke-width="0.9" />
<line x1="265.72" y1="103.08" x2="258.74" y2="100.27" stroke="#FF3366" stroke-width="0.9" />
<line x1="271.30" y1="110.77" x2="267.95" y2="107.20" stroke="#FF3366" stroke-width="0.9" />
<line x1="265.60" y1="114.34" x2="264.74" y2="111.50" stroke="#FF3366" stroke-width="0.9" />
<line x1="253.77" y1="105.86" x2="253.00" y2="104.10" stroke="#FF3366" stroke-width="0.9" />
<line x1="271.08" y1="118.16" x2="276.88" y2="119.35" stroke="#FF3366" stroke-width="0.9" />
<line x1="270.22" y1="105.58" x2="264.57" y2="102.84" stroke="#FF3366" stroke-width="0.9" />
<line x1="268.66" y1="103.56" x2="267.15" y2="98.24" stroke="#FF3366" stroke-width="0.9" />
<line x1="269.14" y1="108.38" x2="272.40" y2="112.42" stroke="#FF3366" stroke-width="0.9" />
<line x1="256.87" y1="104.93" x2="254.45" y2="103.52" stroke="#FF3366" stroke-width="0.9" />
<line x1="257.06" y1="110.79" x2="260.52" y2="106.35" stroke="#FF3366" stroke-width="0.9" />
<line x1="268.12" y1="101.32" x2="260.57" y2="101.36" stroke="#FF3366" stroke-width="0.9" />
<line x1="259.67" y1="107.74" x2="259.75" y2="111.63" stroke="#FF3366" stroke-width="0.9" />
<line x1="261.27" y1="103.47" x2="256.27" y2="104.35" stroke="#FF3366" stroke-width="0.9" />
<line x1="256.15" y1="109.28" x2="253.37" y2="103.70" stroke="#FF3366" stroke-width="0.9" />
<line x1="273.55" y1="112.85" x2="270.37" y2="111.45" stroke="#FF3366" stroke-width="0.9" />
<line x1="265.73" y1="103.14" x2="268.74" y2="102.98" stroke="#FF3366" stroke-width="0.9" />
<line x1="259.30" y1="110.62" x2="265.09" y2="112.87" stroke="#FF3366" stroke-width="0.9" />
<line x1="253.00" y1="109.65" x2="258.65" y2="108.82" stroke="#FF3366" stroke-width="0.9" />
<line x1="262.35" y1="97.30" x2="258.49" y2="95.33" stroke="#FF3366" stroke-width="0.9" />
<line x1="275.38" y1="113.34" x2="272.24" y2="114.40" stroke="#FF3366" stroke-width="0.9" />
<line x1="266.80" y1="111.40" x2="275.73" y2="109.53" stroke="#FF3366" stroke-width="0.9" />
<line x1="266.76" y1="110.32" x2="258.19" y2="107.27" stroke="#FF3366" stroke-width="0.9" />
<line x1="265.34" y1="102.84" x2="273.16" y2="99.94" stroke="#FF3366" stroke-width="0.9" />
<line x1="269.61" y1="106.85" x2="275.69" y2="102.44" stroke="#FF3366" stroke-width="0.9" />
<line x1="267.45" y1="111.80" x2="273.10" y2="112.88" stroke="#FF3366" stroke-width="0.9" />
<line x1="266.25" y1="115.10" x2="268.38" y2="111.50" stroke="#FF3366" stroke-width="0.9" />
<line x1="258.93" y1="111.15" x2="259.31" y2="107.37" stroke="#FF3366" stroke-width="0.9" />
<line x1="256.89" y1="108.34" x2="259.56" y2="111.84" stroke="#FF3366" stroke-width="0.9" />
<line x1="259.44" y1="106.95" x2="264.16" y2="107.82" stroke="#FF3366" stroke-width="0.9" />
<line x1="274.59" y1="106.24" x2="266.45" y2="105.65" stroke="#FF3366" stroke-width="0.9" />
<line x1="257.61" y1="107.61" x2="254.94" y2="105.42" stroke="#FF3366" stroke-width="0.9" />
<line x1="267.78" y1="108.83" x2="266.62" y2="103.82" stroke="#FF3366" stroke-width="0.9" />
<line x1="269.14" y1="110.25" x2="271.18" y2="108.31" stroke="#FF3366" stroke-width="0.9" />
<line x1="278.42" y1="107.90" x2="269.88" y2="109.57" stroke="#FF3366" stroke-width="0.9" />
<line x1="262.32" y1="110.09" x2="267.88" y2="106.90" stroke="#FF3366" stroke-width="0.9" />
<line x1="263.13" y1="113.18" x2="258.83" y2="113.37" stroke="#FF3366" stroke-width="0.9" />
<line x1="262.62" y1="107.82" x2="264.13" y2="111.22" stroke="#FF3366" stroke-width="0.9" />
<line x1="256.09" y1="108.82" x2="253.00" y2="108.39" stroke="#FF3366" stroke-width="0.9" />
<line x1="263.22" y1="112.04" x2="256.66" y2="115.87" stroke="#FF3366" stroke-width="0.9" />
<line x1="270.08" y1="103.73" x2="266.32" y2="104.48" stroke="#FF3366" stroke-width="0.9" />
<line x1="259.94" y1="107.60" x2="264.41" y2="109.62" stroke="#FF3366" stroke-width="0.9" />
<line x1="263.26" y1="106.58" x2="268.03" y2="102.56" stroke="#FF3366" stroke-width="0.9" />
<line x1="265.02" y1="108.07" x2="265.62" y2="103.16" stroke="#FF3366" stroke-width="0.9" />
<line x1="264.71" y1="106.74" x2="268.87" y2="103.43" stroke="#FF3366" stroke-width="0.9" />
<line x1="263.99" y1="109.63" x2="264.86" y2="106.29" stroke="#FF3366" stroke-width="0.9" />
<line x1="264.00" y1="104.00" x2="285.70" y2="39.70" stroke="#FF3366" stroke-width="0.9" />
<path d="M285.2 41.1 L285.6 44.9 L282.6 43.9Z" fill="#FF3366"/>
<circle cx="285.7" cy="39.7" r="2.6" fill="none" stroke="#3C5488" stroke-width="0.6"/>
<line x1="262.00" y1="104.00" x2="277.20" y2="70.90" stroke="#FF3366" stroke-width="0.9" />
<path d="M276.6 72.3 L276.6 76.1 L273.7 74.8Z" fill="#FF3366"/>
<circle cx="277.2" cy="70.9" r="2.6" fill="none" stroke="#00A087" stroke-width="0.6"/>
<line x1="292.00" y1="106.00" x2="320.20" y2="68.20" stroke="#FF3366" stroke-width="0.9" />
<path d="M319.3 69.4 L318.5 73.2 L315.9 71.3Z" fill="#FF3366"/>
<circle cx="320.2" cy="68.2" r="2.6" fill="none" stroke="#DC0000" stroke-width="0.6"/>
<line x1="284.00" y1="104.00" x2="285.80" y2="92.70" stroke="#FF3366" stroke-width="0.9" />
<path d="M285.6 94.2 L286.6 97.9 L283.4 97.4Z" fill="#FF3366"/>
<circle cx="285.8" cy="92.7" r="2.6" fill="none" stroke="#3C5488" stroke-width="0.6"/>
<line x1="300.00" y1="112.00" x2="320.90" y2="92.70" stroke="#FF3366" stroke-width="0.9" />
<path d="M319.8 93.7 L318.3 97.3 L316.1 94.9Z" fill="#FF3366"/>
<circle cx="320.9" cy="92.7" r="2.6" fill="none" stroke="#7E6148" stroke-width="0.6"/>
<line x1="303.00" y1="108.00" x2="355.90" y2="89.90" stroke="#FF3366" stroke-width="0.9" />
<path d="M354.5 90.4 L351.7 93.0 L350.7 90.0Z" fill="#FF3366"/>
<circle cx="355.9" cy="89.9" r="2.6" fill="none" stroke="#7E6148" stroke-width="0.6"/>
<line x1="308.00" y1="108.00" x2="407.30" y2="81.00" stroke="#FF3366" stroke-width="0.9" />
<path d="M405.9 81.4 L402.9 83.9 L402.1 80.8Z" fill="#FF3366"/>
<circle cx="407.3" cy="81.0" r="2.6" fill="none" stroke="#7E6148" stroke-width="0.6"/>
<line x1="310.00" y1="110.00" x2="430.70" y2="91.10" stroke="#FF3366" stroke-width="0.9" />
<path d="M429.2 91.3 L426.0 93.5 L425.5 90.3Z" fill="#FF3366"/>
<circle cx="430.7" cy="91.1" r="2.6" fill="none" stroke="#4DBBD5" stroke-width="0.6"/>
<line x1="298.00" y1="112.00" x2="318.60" y2="116.10" stroke="#FF3366" stroke-width="0.9" />
<path d="M317.1 115.8 L313.4 116.7 L314.0 113.6Z" fill="#FF3366"/>
<circle cx="318.6" cy="116.1" r="2.6" fill="none" stroke="#4DBBD5" stroke-width="0.6"/>
<line x1="303.00" y1="115.00" x2="323.20" y2="132.40" stroke="#FF3366" stroke-width="0.9" />
<path d="M322.1 131.4 L318.4 130.3 L320.5 127.9Z" fill="#FF3366"/>
<circle cx="323.2" cy="132.4" r="2.6" fill="none" stroke="#91D1C2" stroke-width="0.6"/>
<line x1="298.00" y1="120.00" x2="319.70" y2="147.60" stroke="#FF3366" stroke-width="0.9" />
<path d="M318.8 146.4 L315.4 144.7 L317.9 142.7Z" fill="#FF3366"/>
<circle cx="319.7" cy="147.6" r="2.6" fill="none" stroke="#4DBBD5" stroke-width="0.6"/>
<line x1="265.00" y1="120.00" x2="292.90" y2="155.80" stroke="#FF3366" stroke-width="0.9" />
<path d="M292.0 154.6 L288.6 152.8 L291.1 150.9Z" fill="#FF3366"/>
<circle cx="292.9" cy="155.8" r="2.6" fill="none" stroke="#8491B4" stroke-width="0.6"/>
<line x1="272.00" y1="122.00" x2="302.20" y2="158.10" stroke="#FF3366" stroke-width="0.9" />
<path d="M301.2 156.9 L297.8 155.3 L300.2 153.2Z" fill="#FF3366"/>
<circle cx="302.2" cy="158.1" r="2.6" fill="none" stroke="#4DBBD5" stroke-width="0.6"/>
<line x1="285.00" y1="120.00" x2="315.00" y2="160.00" stroke="#FF3366" stroke-width="0.9" />
<path d="M314.1 158.8 L310.7 157.0 L313.3 155.0Z" fill="#FF3366"/>
<circle cx="315.0" cy="160.0" r="2.6" fill="none" stroke="#00A087" stroke-width="0.6"/>
<line x1="290.00" y1="115.00" x2="358.30" y2="182.70" stroke="#FF3366" stroke-width="0.9" />
<path d="M357.2 181.6 L353.6 180.3 L355.9 178.0Z" fill="#FF3366"/>
<circle cx="358.3" cy="182.7" r="2.6" fill="none" stroke="#4DBBD5" stroke-width="0.6"/>
<line x1="296.00" y1="110.00" x2="312.00" y2="112.00" stroke="#FF3366" stroke-width="0.9" />
<path d="M310.5 111.8 L306.8 113.0 L307.2 109.8Z" fill="#FF3366"/>
<circle cx="312" cy="112" r="2.6" fill="none" stroke="#91D1C2" stroke-width="0.6"/>
<line x1="245.20" y1="21.80" x2="315.70" y2="191.40" stroke="#222" stroke-width="0.7" />
<line x1="245.50" y1="118.20" x2="439.50" y2="90.00" stroke="#222" stroke-width="0.7" />
</g>
<rect x="245.5" y="8.3" width="194" height="182.89999999999998" fill="none" stroke="#333333" stroke-width="0.9"/>
<line x1="282.70" y1="191.20" x2="282.70" y2="193.20" stroke="#333333" stroke-width="0.7" />
<text x="0" y="0" font-size="6.4" text-anchor="middle" fill="#333333" stroke="#333333" stroke-width="0.12" transform="translate(282.70 198.80) scale(1 1.12)" >0.0</text>
<line x1="321.80" y1="191.20" x2="321.80" y2="193.20" stroke="#333333" stroke-width="0.7" />
<text x="0" y="0" font-size="6.4" text-anchor="middle" fill="#333333" stroke="#333333" stroke-width="0.12" transform="translate(321.80 198.80) scale(1 1.12)" >0.1</text>
<line x1="360.90" y1="191.20" x2="360.90" y2="193.20" stroke="#333333" stroke-width="0.7" />
<text x="0" y="0" font-size="6.4" text-anchor="middle" fill="#333333" stroke="#333333" stroke-width="0.12" transform="translate(360.90 198.80) scale(1 1.12)" >0.2</text>
<line x1="400.00" y1="191.20" x2="400.00" y2="193.20" stroke="#333333" stroke-width="0.7" />
<text x="0" y="0" font-size="6.4" text-anchor="middle" fill="#333333" stroke="#333333" stroke-width="0.12" transform="translate(400.00 198.80) scale(1 1.12)" >0.3</text>
<line x1="243.50" y1="21.20" x2="245.50" y2="21.20" stroke="#333333" stroke-width="0.7" />
<text x="0" y="0" font-size="6.4" text-anchor="end" fill="#333333" stroke="#333333" stroke-width="0.12" transform="translate(243.20 23.50) scale(1 1.12)" >0.4</text>
<line x1="243.50" y1="66.70" x2="245.50" y2="66.70" stroke="#333333" stroke-width="0.7" />
<text x="0" y="0" font-size="6.4" text-anchor="end" fill="#333333" stroke="#333333" stroke-width="0.12" transform="translate(243.20 69.00) scale(1 1.12)" >0.2</text>
<line x1="243.50" y1="112.20" x2="245.50" y2="112.20" stroke="#333333" stroke-width="0.7" />
<text x="0" y="0" font-size="6.4" text-anchor="end" fill="#333333" stroke="#333333" stroke-width="0.12" transform="translate(243.20 114.50) scale(1 1.12)" >0.0</text>
<line x1="243.50" y1="157.70" x2="245.50" y2="157.70" stroke="#333333" stroke-width="0.7" />
<text x="0" y="0" font-size="6.4" text-anchor="end" fill="#333333" stroke="#333333" stroke-width="0.12" transform="translate(243.20 160.00) scale(1 1.12)" >−0.2</text>
<text x="0" y="0" font-size="8.3" text-anchor="middle" fill="#111" stroke="#111" stroke-width="0.12" transform="translate(342.50 5.90) scale(1 1.12)" >Bacteria-VFG</text>
<text x="0" y="0" font-size="7.4" text-anchor="middle" fill="#111" stroke="#111" stroke-width="0.12" transform="translate(348.50 207.30) scale(1 1.12)" >Dimension 1</text>
<text x="0" y="0" font-size="7.4" text-anchor="middle" dominant-baseline="central" fill="#111" stroke="#111" stroke-width="0.12" transform="translate(229.50 100.60) rotate(-90.00) scale(1 1.12)" >Dimension 2</text>
<text x="0" y="0" font-size="5.55" text-anchor="start" fill="#111" stroke="#111" stroke-width="0.12" transform="translate(407.40 18.90) scale(1 1.12)" >M<tspan font-size="3.6" dy="-2.3">2</tspan><tspan dy="2.3"> = 0.859</tspan></text>
<text x="0" y="0" font-size="5.55" text-anchor="start" fill="#111" stroke="#111" stroke-width="0.12" transform="translate(407.40 24.70) scale(1 1.12)" >P = 0.001</text>
<text x="0" y="0" font-size="6.6" text-anchor="start" fill="#111" stroke="#111" stroke-width="0.12" transform="translate(401.00 119.80) scale(1 1.12)" >Group</text>
<circle cx="391.6" cy="124.90" r="2.65" fill="#E64B35"/>
<text x="0" y="0" font-size="5.6" text-anchor="start" fill="#111" stroke="#111" stroke-width="0.12" transform="translate(395.40 126.90) scale(1 1.12)" >Rural_SY</text>
<circle cx="391.6" cy="131.80" r="2.65" fill="#4DBBD5"/>
<text x="0" y="0" font-size="5.6" text-anchor="start" fill="#111" stroke="#111" stroke-width="0.12" transform="translate(395.40 133.80) scale(1 1.12)" >Rural_YJ</text>
<circle cx="391.6" cy="138.70" r="2.65" fill="#00A087"/>
<text x="0" y="0" font-size="5.6" text-anchor="start" fill="#111" stroke="#111" stroke-width="0.12" transform="translate(395.40 140.70) scale(1 1.12)" >Subadult_female</text>
<circle cx="391.6" cy="145.60" r="2.65" fill="#3C5488"/>
<text x="0" y="0" font-size="5.6" text-anchor="start" fill="#111" stroke="#111" stroke-width="0.12" transform="translate(395.40 147.60) scale(1 1.12)" >Subadult_male</text>
<circle cx="391.6" cy="152.50" r="2.65" fill="#F39B7F"/>
<text x="0" y="0" font-size="5.6" text-anchor="start" fill="#111" stroke="#111" stroke-width="0.12" transform="translate(395.40 154.50) scale(1 1.12)" >t1</text>
<circle cx="391.6" cy="159.40" r="2.65" fill="#8491B4"/>
<text x="0" y="0" font-size="5.6" text-anchor="start" fill="#111" stroke="#111" stroke-width="0.12" transform="translate(395.40 161.40) scale(1 1.12)" >t2</text>
<circle cx="391.6" cy="166.30" r="2.65" fill="#91D1C2"/>
<text x="0" y="0" font-size="5.6" text-anchor="start" fill="#111" stroke="#111" stroke-width="0.12" transform="translate(395.40 168.30) scale(1 1.12)" >t3</text>
<circle cx="391.6" cy="173.20" r="2.65" fill="#DC0000"/>
<text x="0" y="0" font-size="5.6" text-anchor="start" fill="#111" stroke="#111" stroke-width="0.12" transform="translate(395.40 175.20) scale(1 1.12)" >t4</text>
<circle cx="391.6" cy="180.10" r="2.65" fill="#7E6148"/>
<text x="0" y="0" font-size="5.6" text-anchor="start" fill="#111" stroke="#111" stroke-width="0.12" transform="translate(395.40 182.10) scale(1 1.12)" >t5</text>
<circle cx="391.6" cy="187.00" r="2.65" fill="#B09C85"/>
<text x="0" y="0" font-size="5.6" text-anchor="start" fill="#111" stroke="#111" stroke-width="0.12" transform="translate(395.40 189.00) scale(1 1.12)" >t6</text>
<g clip-path="url(#cc)">
<polyline fill="none" stroke="#111" stroke-width="1.2" points="460.8,183.4 461.4,183.4 462.0,183.4 462.5,183.4 463.1,183.4 463.7,183.4 464.2,183.4 464.8,183.4 465.4,183.4 465.9,183.3 466.5,183.3 467.1,183.3 467.6,183.3 468.2,183.3 468.7,183.3 469.3,183.3 469.9,183.3 470.4,183.3 471.0,183.3 471.6,183.2 472.1,183.2 472.7,183.2 473.3,183.2 473.8,183.2 474.4,183.2 475.0,183.2 475.5,183.1 476.1,183.1 476.7,183.1 477.2,183.1 477.8,183.1 478.4,183.0 478.9,183.0 479.5,183.0 480.1,183.0 480.6,182.9 481.2,182.9 481.8,182.9 482.3,182.8 482.9,182.8 483.5,182.8 484.0,182.7 484.6,182.7 485.2,182.6 485.7,182.6 486.3,182.6 486.9,182.5 487.4,182.5 488.0,182.4 488.6,182.3 489.1,182.3 489.7,182.2 490.3,182.2 490.8,182.1 491.4,182.0 492.0,181.9 492.5,181.9 493.1,181.8 493.7,181.7 494.2,181.6 494.8,181.5 495.3,181.4 495.9,181.3 496.5,181.2 497.0,181.1 497.6,180.9 498.2,180.8 498.7,180.7 499.3,180.5 499.9,180.4 500.4,180.2 501.0,180.1 501.6,179.9 502.1,179.7 502.7,179.5 503.3,179.3 503.8,179.1 504.4,178.9 505.0,178.6 505.5,178.4 506.1,178.1 506.7,177.9 507.2,177.6 507.8,177.3 508.4,177.0 508.9,176.6 509.5,176.3 510.1,175.9 510.6,175.6 511.2,175.2 511.8,174.7 512.3,174.3 512.9,173.8 513.5,173.4 514.0,172.9 514.6,172.3 515.2,171.8 515.7,171.2 516.3,170.6 516.9,170.0 517.4,169.3 518.0,168.6 518.6,167.9 519.1,167.1 519.7,166.3 520.3,165.5 520.8,164.6 521.4,163.7 522.0,162.8 522.5,161.8 523.1,160.8 523.6,159.7 524.2,158.5 524.8,157.4 525.3,156.2 525.9,154.9 526.5,153.6 527.0,152.2 527.6,150.7 528.2,149.2 528.7,147.7 529.3,146.1 529.9,144.4 530.4,142.7 531.0,140.9 531.6,139.0 532.1,137.1 532.7,135.1 533.3,133.0 533.8,130.9 534.4,128.7 535.0,126.4 535.5,124.1 536.1,121.7 536.7,119.2 537.2,116.7 537.8,114.1 538.4,111.5 538.9,108.7 539.5,106.0 540.1,103.2 540.6,100.3 541.2,97.4 541.8,94.4 542.3,91.5 542.9,88.4 543.5,85.4 544.0,82.4 544.6,79.3 545.2,76.2 545.7,73.2 546.3,70.1 546.9,67.1 547.4,64.1 548.0,61.1 548.6,58.2 549.1,55.3 549.7,52.6 550.3,49.8 550.8,47.2 551.4,44.7 552.0,42.2 552.5,39.9 553.1,37.6 553.6,35.5 554.2,33.5 554.8,31.7 555.3,29.9 555.9,28.3 556.5,26.8 557.0,25.5 557.6,24.2 558.2,23.1 558.7,22.1 559.3,21.3 559.9,20.5 560.4,19.8 561.0,19.3 561.6,18.8 562.1,18.3 562.7,18.0 563.3,17.7 563.8,17.5 564.4,17.3 565.0,17.1 565.5,17.0 566.1,16.9 566.7,16.9 567.2,16.8 567.8,16.8 568.4,16.8 568.9,16.7 569.5,16.7 570.1,16.7 570.6,16.7 571.2,16.7 571.8,16.7 572.3,16.7 572.9,16.7 573.5,16.7 574.0,16.7 574.6,16.7 575.2,16.7 575.7,16.7 576.3,16.7 576.9,16.7 577.4,16.7 578.0,16.7 578.6,16.7 579.1,16.7 579.7,16.7 580.2,16.7 580.8,16.7 581.4,16.7 581.9,16.7 582.5,16.7 583.1,16.7 583.6,16.7 584.2,16.7 584.8,16.7 585.3,16.7 585.9,16.7 586.5,16.7 587.0,16.7 587.6,16.7 588.2,16.7 588.7,16.7 589.3,16.7 589.9,16.7 590.4,16.7 591.0,16.7 591.6,16.7 592.1,16.7 592.7,16.7 593.3,16.7 593.8,16.7 594.4,16.7 595.0,16.7 595.5,16.7 596.1,16.7 596.7,16.7 597.2,16.7 597.8,16.7 598.4,16.7 598.9,16.7 599.5,16.7 600.1,16.7 600.6,16.7 601.2,16.7 601.8,16.7 602.3,16.7 602.9,16.7 603.5,16.7 604.0,16.7 604.6,16.7 605.2,16.7 605.7,16.7 606.3,16.7 606.9,16.7 607.4,16.7 608.0,16.7 608.5,16.7 609.1,16.7 609.7,16.7 610.2,16.7 610.8,16.7 611.4,16.7 611.9,16.7 612.5,16.7 613.1,16.7 613.6,16.7 614.2,16.7 614.8,16.7 615.3,16.7 615.9,16.7 616.5,16.7 617.0,16.7 617.6,16.7 618.2,16.7 618.7,16.7 619.3,16.7 619.9,16.7 620.4,16.7 621.0,16.7 621.6,16.7 622.1,16.7 622.7,16.7 623.3,16.7 623.8,16.7 624.4,16.7 625.0,16.7 625.5,16.7 626.1,16.7 626.7,16.7 627.2,16.7 627.8,16.7 628.4,16.7 628.9,16.7 629.5,16.7 630.1,16.7 630.6,16.7 631.2,16.7 631.8,16.7 632.3,16.7 632.9,16.7 633.5,16.7 634.0,16.7 634.6,16.7 635.2,16.7 635.7,16.7 636.3,16.7 636.9,16.7 637.4,16.7 638.0,16.7 638.5,16.7 639.1,16.7 639.7,16.7 640.2,16.7 640.8,16.7 641.4,16.7 641.9,16.7 642.5,16.7 643.1,16.7 643.6,16.7 644.2,16.7 644.8,16.7 645.3,16.7 645.9,16.7 646.5,16.7 647.0,16.7 647.6,16.7 648.2,16.7 648.7,16.7 649.3,16.7 649.9,16.7 650.4,16.7 651.0,16.7 651.6,16.7 652.1,16.7 652.7,16.7 653.3,16.7 653.8,16.7 654.4,16.7 655.0,16.7 655.5,16.7 656.1,16.7 656.7,16.7 657.2,16.7 657.8,16.7 658.4,16.7 658.9,16.7 659.5,16.7 660.1,16.7 660.6,16.7 661.2,16.7 661.8,16.7 662.3,16.7 662.9,16.7 663.5,16.7 664.0,16.7 664.6,16.7 665.1,16.7 665.7,16.7 666.3,16.7 666.8,16.7 667.4,16.7 668.0,16.7 668.5,16.7 669.1,16.7 669.7,16.7 670.2,16.7 670.8,16.7 671.4,16.7 671.9,16.7 672.5,16.7 673.1,16.7 673.6,16.7 674.2,16.7 674.8,16.7 675.3,16.7 675.9,16.7 676.5,16.7 677.0,16.7 677.6,16.7 678.2,16.7 678.7,16.7 679.3,16.7 679.9,16.7 680.4,16.7 681.0,16.7 681.6,16.7 682.1,16.7 682.7,16.7 683.3,16.7 683.8,16.7 684.4,16.7 685.0,16.7 685.5,16.7 686.1,16.7 686.7,16.7"/>
<polyline fill="none" stroke="#111" stroke-width="1.2" stroke-dasharray="4.5 3" points="460.8,183.5 461.4,183.5 462.0,183.5 462.5,183.5 463.1,183.5 463.7,183.5 464.2,183.5 464.8,183.5 465.4,183.5 465.9,183.5 466.5,183.5 467.1,183.5 467.6,183.5 468.2,183.5 468.7,183.5 469.3,183.5 469.9,183.5 470.4,183.5 471.0,183.5 471.6,183.5 472.1,183.5 472.7,183.5 473.3,183.5 473.8,183.5 474.4,183.5 475.0,183.5 475.5,183.5 476.1,183.5 476.7,183.5 477.2,183.5 477.8,183.5 478.4,183.5 478.9,183.5 479.5,183.5 480.1,183.5 480.6,183.5 481.2,183.5 481.8,183.5 482.3,183.5 482.9,183.5 483.5,183.5 484.0,183.4 484.6,183.4 485.2,183.4 485.7,183.4 486.3,183.4 486.9,183.4 487.4,183.4 488.0,183.4 488.6,183.4 489.1,183.4 489.7,183.4 490.3,183.4 490.8,183.3 491.4,183.3 492.0,183.3 492.5,183.3 493.1,183.3 493.7,183.3 494.2,183.2 494.8,183.2 495.3,183.2 495.9,183.1 496.5,183.1 497.0,183.1 497.6,183.0 498.2,183.0 498.7,183.0 499.3,182.9 499.9,182.9 500.4,182.8 501.0,182.7 501.6,182.7 502.1,182.6 502.7,182.5 503.3,182.5 503.8,182.4 504.4,182.3 505.0,182.2 505.5,182.1 506.1,182.0 506.7,181.8 507.2,181.7 507.8,181.6 508.4,181.4 508.9,181.3 509.5,181.1 510.1,180.9 510.6,180.7 511.2,180.5 511.8,180.3 512.3,180.0 512.9,179.8 513.5,179.5 514.0,179.2 514.6,178.9 515.2,178.6 515.7,178.2 516.3,177.9 516.9,177.5 517.4,177.1 518.0,176.6 518.6,176.1 519.1,175.6 519.7,175.1 520.3,174.6 520.8,174.0 521.4,173.3 522.0,172.7 522.5,172.0 523.1,171.3 523.6,170.5 524.2,169.7 524.8,168.8 525.3,167.9 525.9,166.9 526.5,165.9 527.0,164.9 527.6,163.7 528.2,162.6 528.7,161.3 529.3,160.1 529.9,158.7 530.4,157.3 531.0,155.8 531.6,154.3 532.1,152.7 532.7,151.0 533.3,149.3 533.8,147.4 534.4,145.5 535.0,143.6 535.5,141.5 536.1,139.4 536.7,137.2 537.2,135.0 537.8,132.6 538.4,130.2 538.9,127.7 539.5,125.2 540.1,122.5 540.6,119.9 541.2,117.1 541.8,114.3 542.3,111.4 542.9,108.5 543.5,105.5 544.0,102.5 544.6,99.4 545.2,96.3 545.7,93.2 546.3,90.1 546.9,86.9 547.4,83.8 548.0,80.7 548.6,77.6 549.1,74.5 549.7,71.5 550.3,68.5 550.8,65.5 551.4,62.6 552.0,59.8 552.5,57.1 553.1,54.5 553.6,52.0 554.2,49.5 554.8,47.2 555.3,45.0 555.9,43.0 556.5,41.0 557.0,39.2 557.6,37.6 558.2,36.0 558.7,34.6 559.3,33.3 559.9,32.2 560.4,31.2 561.0,30.2 561.6,29.5 562.1,28.8 562.7,28.2 563.3,27.7 563.8,27.3 564.4,27.0 565.0,26.7 565.5,26.5 566.1,26.3 566.7,26.2 567.2,26.1 567.8,26.0 568.4,26.0 568.9,25.9 569.5,25.9 570.1,25.9 570.6,25.9 571.2,25.9 571.8,25.9 572.3,25.9 572.9,25.9 573.5,25.9 574.0,25.9 574.6,25.9 575.2,25.9 575.7,25.9 576.3,25.9 576.9,25.9 577.4,25.9 578.0,25.9 578.6,25.9 579.1,25.9 579.7,25.9 580.2,25.9 580.8,25.9 581.4,25.9 581.9,25.9 582.5,25.9 583.1,25.9 583.6,25.9 584.2,25.9 584.8,25.9 585.3,25.9 585.9,25.9 586.5,25.9 587.0,25.9 587.6,25.9 588.2,25.9 588.7,25.9 589.3,25.9 589.9,25.9 590.4,25.9 591.0,25.9 591.6,25.9 592.1,25.9 592.7,25.9 593.3,25.9 593.8,25.9 594.4,25.9 595.0,25.9 595.5,25.9 596.1,25.9 596.7,25.9 597.2,25.9 597.8,25.9 598.4,25.9 598.9,25.9 599.5,25.9 600.1,25.9 600.6,25.9 601.2,25.9 601.8,25.9 602.3,25.9 602.9,25.9 603.5,25.9 604.0,25.9 604.6,25.9 605.2,25.9 605.7,25.9 606.3,25.9 606.9,25.9 607.4,25.9 608.0,25.9 608.5,25.9 609.1,25.9 609.7,25.9 610.2,25.9 610.8,25.9 611.4,25.9 611.9,25.9 612.5,25.9 613.1,25.9 613.6,25.9 614.2,25.9 614.8,25.9 615.3,25.9 615.9,25.9 616.5,25.9 617.0,25.9 617.6,25.9 618.2,25.9 618.7,25.9 619.3,25.9 619.9,25.9 620.4,25.9 621.0,25.9 621.6,25.9 622.1,25.9 622.7,25.9 623.3,25.9 623.8,25.9 624.4,25.9 625.0,25.9 625.5,25.9 626.1,25.9 626.7,25.9 627.2,25.9 627.8,25.9 628.4,25.9 628.9,25.9 629.5,25.9 630.1,25.9 630.6,25.9 631.2,25.9 631.8,25.9 632.3,25.9 632.9,25.9 633.5,25.9 634.0,25.9 634.6,25.9 635.2,25.9 635.7,25.9 636.3,25.9 636.9,25.9 637.4,25.9 638.0,25.9 638.5,25.9 639.1,25.9 639.7,25.9 640.2,25.9 640.8,25.9 641.4,25.9 641.9,25.9 642.5,25.9 643.1,25.9 643.6,25.9 644.2,25.9 644.8,25.9 645.3,25.9 645.9,25.9 646.5,25.9 647.0,25.9 647.6,25.9 648.2,25.9 648.7,25.9 649.3,25.9 649.9,25.9 650.4,25.9 651.0,25.9 651.6,25.9 652.1,25.9 652.7,25.9 653.3,25.9 653.8,25.9 654.4,25.9 655.0,25.9 655.5,25.9 656.1,25.9 656.7,25.9 657.2,25.9 657.8,25.9 658.4,25.9 658.9,25.9 659.5,25.9 660.1,25.9 660.6,25.9 661.2,25.9 661.8,25.9 662.3,25.9 662.9,25.9 663.5,25.9 664.0,25.9 664.6,25.9 665.1,25.9 665.7,25.9 666.3,25.9 666.8,25.9 667.4,25.9 668.0,25.9 668.5,25.9 669.1,25.9 669.7,25.9 670.2,25.9 670.8,25.9 671.4,25.9 671.9,25.9 672.5,25.9 673.1,25.9 673.6,25.9 674.2,25.9 674.8,25.9 675.3,25.9 675.9,25.9 676.5,25.9 677.0,25.9 677.6,25.9 678.2,25.9 678.7,25.9 679.3,25.9 679.9,25.9 680.4,25.9 681.0,25.9 681.6,25.9 682.1,25.9 682.7,25.9 683.3,25.9 683.8,25.9 684.4,25.9 685.0,25.9 685.5,25.9 686.1,25.9 686.7,25.9"/>
<polyline fill="none" stroke="#111" stroke-width="1.2" stroke-dasharray="4.5 3" points="460.8,174.1 461.4,174.1 462.0,174.1 462.5,174.1 463.1,174.1 463.7,174.1 464.2,174.1 464.8,174.1 465.4,174.0 465.9,174.0 466.5,174.0 467.1,174.0 467.6,174.0 468.2,174.0 468.7,173.9 469.3,173.9 469.9,173.9 470.4,173.9 471.0,173.9 471.6,173.8 472.1,173.8 472.7,173.8 473.3,173.8 473.8,173.7 474.4,173.7 475.0,173.7 475.5,173.6 476.1,173.6 476.7,173.6 477.2,173.5 477.8,173.5 478.4,173.5 478.9,173.4 479.5,173.4 480.1,173.3 480.6,173.3 481.2,173.2 481.8,173.2 482.3,173.1 482.9,173.0 483.5,173.0 484.0,172.9 484.6,172.8 485.2,172.8 485.7,172.7 486.3,172.6 486.9,172.5 487.4,172.4 488.0,172.4 488.6,172.3 489.1,172.2 489.7,172.0 490.3,171.9 490.8,171.8 491.4,171.7 492.0,171.6 492.5,171.4 493.1,171.3 493.7,171.2 494.2,171.0 494.8,170.9 495.3,170.7 495.9,170.5 496.5,170.3 497.0,170.1 497.6,169.9 498.2,169.7 498.7,169.5 499.3,169.3 499.9,169.1 500.4,168.8 501.0,168.6 501.6,168.3 502.1,168.0 502.7,167.7 503.3,167.4 503.8,167.1 504.4,166.8 505.0,166.4 505.5,166.1 506.1,165.7 506.7,165.3 507.2,164.9 507.8,164.5 508.4,164.1 508.9,163.6 509.5,163.1 510.1,162.6 510.6,162.1 511.2,161.6 511.8,161.0 512.3,160.4 512.9,159.8 513.5,159.2 514.0,158.5 514.6,157.8 515.2,157.1 515.7,156.4 516.3,155.6 516.9,154.8 517.4,153.9 518.0,153.1 518.6,152.2 519.1,151.2 519.7,150.3 520.3,149.2 520.8,148.2 521.4,147.1 522.0,146.0 522.5,144.8 523.1,143.6 523.6,142.3 524.2,141.0 524.8,139.7 525.3,138.3 525.9,136.8 526.5,135.3 527.0,133.8 527.6,132.2 528.2,130.5 528.7,128.8 529.3,127.0 529.9,125.2 530.4,123.3 531.0,121.4 531.6,119.4 532.1,117.4 532.7,115.3 533.3,113.1 533.8,110.9 534.4,108.7 535.0,106.3 535.5,104.0 536.1,101.6 536.7,99.1 537.2,96.6 537.8,94.0 538.4,91.4 538.9,88.8 539.5,86.1 540.1,83.4 540.6,80.7 541.2,78.0 541.8,75.2 542.3,72.5 542.9,69.7 543.5,66.9 544.0,64.2 544.6,61.5 545.2,58.7 545.7,56.1 546.3,53.4 546.9,50.8 547.4,48.3 548.0,45.8 548.6,43.4 549.1,41.1 549.7,38.9 550.3,36.8 550.8,34.7 551.4,32.8 552.0,31.0 552.5,29.3 553.1,27.7 553.6,26.2 554.2,24.9 554.8,23.6 555.3,22.5 555.9,21.6 556.5,20.7 557.0,19.9 557.6,19.3 558.2,18.7 558.7,18.3 559.3,17.9 559.9,17.6 560.4,17.3 561.0,17.2 561.6,17.0 562.1,16.9 562.7,16.8 563.3,16.8 563.8,16.8 564.4,16.7 565.0,16.7 565.5,16.7 566.1,16.7 566.7,16.7 567.2,16.7 567.8,16.7 568.4,16.7 568.9,16.7 569.5,16.7 570.1,16.7 570.6,16.7 571.2,16.7 571.8,16.7 572.3,16.7 572.9,16.7 573.5,16.7 574.0,16.7 574.6,16.7 575.2,16.7 575.7,16.7 576.3,16.7 576.9,16.7 577.4,16.7 578.0,16.7 578.6,16.7 579.1,16.7 579.7,16.7 580.2,16.7 580.8,16.7 581.4,16.7 581.9,16.7 582.5,16.7 583.1,16.7 583.6,16.7 584.2,16.7 584.8,16.7 585.3,16.7 585.9,16.7 586.5,16.7 587.0,16.7 587.6,16.7 588.2,16.7 588.7,16.7 589.3,16.7 589.9,16.7 590.4,16.7 591.0,16.7 591.6,16.7 592.1,16.7 592.7,16.7 593.3,16.7 593.8,16.7 594.4,16.7 595.0,16.7 595.5,16.7 596.1,16.7 596.7,16.7 597.2,16.7 597.8,16.7 598.4,16.7 598.9,16.7 599.5,16.7 600.1,16.7 600.6,16.7 601.2,16.7 601.8,16.7 602.3,16.7 602.9,16.7 603.5,16.7 604.0,16.7 604.6,16.7 605.2,16.7 605.7,16.7 606.3,16.7 606.9,16.7 607.4,16.7 608.0,16.7 608.5,16.7 609.1,16.7 609.7,16.7 610.2,16.7 610.8,16.7 611.4,16.7 611.9,16.7 612.5,16.7 613.1,16.7 613.6,16.7 614.2,16.7 614.8,16.7 615.3,16.7 615.9,16.7 616.5,16.7 617.0,16.7 617.6,16.7 618.2,16.7 618.7,16.7 619.3,16.7 619.9,16.7 620.4,16.7 621.0,16.7 621.6,16.7 622.1,16.7 622.7,16.7 623.3,16.7 623.8,16.7 624.4,16.7 625.0,16.7 625.5,16.7 626.1,16.7 626.7,16.7 627.2,16.7 627.8,16.7 628.4,16.7 628.9,16.7 629.5,16.7 630.1,16.7 630.6,16.7 631.2,16.7 631.8,16.7 632.3,16.7 632.9,16.7 633.5,16.7 634.0,16.7 634.6,16.7 635.2,16.7 635.7,16.7 636.3,16.7 636.9,16.7 637.4,16.7 638.0,16.7 638.5,16.7 639.1,16.7 639.7,16.7 640.2,16.7 640.8,16.7 641.4,16.7 641.9,16.7 642.5,16.7 643.1,16.7 643.6,16.7 644.2,16.7 644.8,16.7 645.3,16.7 645.9,16.7 646.5,16.7 647.0,16.7 647.6,16.7 648.2,16.7 648.7,16.7 649.3,16.7 649.9,16.7 650.4,16.7 651.0,16.7 651.6,16.7 652.1,16.7 652.7,16.7 653.3,16.7 653.8,16.7 654.4,16.7 655.0,16.7 655.5,16.7 656.1,16.7 656.7,16.7 657.2,16.7 657.8,16.7 658.4,16.7 658.9,16.7 659.5,16.7 660.1,16.7 660.6,16.7 661.2,16.7 661.8,16.7 662.3,16.7 662.9,16.7 663.5,16.7 664.0,16.7 664.6,16.7 665.1,16.7 665.7,16.7 666.3,16.7 666.8,16.7 667.4,16.7 668.0,16.7 668.5,16.7 669.1,16.7 669.7,16.7 670.2,16.7 670.8,16.7 671.4,16.7 671.9,16.7 672.5,16.7 673.1,16.7 673.6,16.7 674.2,16.7 674.8,16.7 675.3,16.7 675.9,16.7 676.5,16.7 677.0,16.7 677.6,16.7 678.2,16.7 678.7,16.7 679.3,16.7 679.9,16.7 680.4,16.7 681.0,16.7 681.6,16.7 682.1,16.7 682.7,16.7 683.3,16.7 683.8,16.7 684.4,16.7 685.0,16.7 685.5,16.7 686.1,16.7 686.7,16.7"/>
<path d="M509.9 179.8h2.2v2.3h-2.2zM514.4 179.8h2.2v2.3h-2.2zM516.9 179.8h7.1v2.3h-7.1zM526.4 179.8h17.6v2.3h-17.6zM545.8 179.8h10.5v2.3h-10.5zM556.6 179.8h2.2v2.3h-2.2zM561.5 179.8h6.8v2.3h-6.8zM570.9 179.8h2.2v2.3h-2.2zM573.4 179.8h2.2v2.3h-2.2zM578.1 179.8h8.9v2.3h-8.9zM592.0 179.8h2.2v2.3h-2.2zM515.4 177.3h6.4v2.3h-6.4zM524.4 177.3h23.1v2.3h-23.1zM547.8 177.3h11.6v2.3h-11.6zM562.0 177.3h2.2v2.3h-2.2zM569.3 177.3h4.5v2.3h-4.5zM585.8 177.3h2.2v2.3h-2.2zM589.4 177.3h6.5v2.3h-6.5zM518.8 174.8h2.2v2.3h-2.2zM521.3 174.8h8.8v2.3h-8.8zM532.7 174.8h2.2v2.3h-2.2zM536.9 174.8h11.2v2.3h-11.2zM552.7 174.8h2.2v2.3h-2.2zM557.0 174.8h2.2v2.3h-2.2zM561.4 174.8h6.8v2.3h-6.8zM570.6 174.8h4.5v2.3h-4.5zM577.4 174.8h6.8v2.3h-6.8zM584.9 174.8h2.2v2.3h-2.2zM587.7 174.8h3.3v2.3h-3.3zM591.8 174.8h2.2v2.3h-2.2zM521.3 172.2h4.4v2.3h-4.4zM528.0 172.2h15.7v2.3h-15.7zM546.5 172.2h6.3v2.3h-6.3zM553.1 172.2h8.0v2.3h-8.0zM562.9 172.2h4.4v2.3h-4.4zM571.6 172.2h2.2v2.3h-2.2zM576.5 172.2h3.4v2.3h-3.4zM581.2 172.2h2.2v2.3h-2.2zM583.8 172.2h7.7v2.3h-7.7zM603.1 172.2h2.2v2.3h-2.2zM523.4 169.7h27.7v2.3h-27.7zM553.1 169.7h17.4v2.3h-17.4zM574.5 169.7h5.1v2.3h-5.1zM581.2 169.7h2.2v2.3h-2.2zM587.3 169.7h4.8v2.3h-4.8zM525.1 167.2h10.4v2.3h-10.4zM535.8 167.2h8.9v2.3h-8.9zM549.2 167.2h4.9v2.3h-4.9zM556.7 167.2h2.2v2.3h-2.2zM561.1 167.2h4.4v2.3h-4.4zM567.8 167.2h9.3v2.3h-9.3zM582.6 167.2h2.2v2.3h-2.2zM587.8 167.2h2.2v2.3h-2.2zM526.5 164.7h2.2v2.3h-2.2zM531.2 164.7h15.0v2.3h-15.0zM548.7 164.7h4.7v2.3h-4.7zM555.8 164.7h2.2v2.3h-2.2zM562.6 164.7h2.2v2.3h-2.2zM565.1 164.7h4.5v2.3h-4.5zM571.1 164.7h5.7v2.3h-5.7zM580.9 164.7h2.2v2.3h-2.2zM590.0 164.7h2.2v2.3h-2.2zM527.8 162.1h8.7v2.3h-8.7zM541.4 162.1h11.7v2.3h-11.7zM555.6 162.1h7.1v2.3h-7.1zM566.4 162.1h2.2v2.3h-2.2zM570.2 162.1h2.9v2.3h-2.9zM574.6 162.1h2.2v2.3h-2.2zM578.4 162.1h3.2v2.3h-3.2zM582.0 162.1h2.2v2.3h-2.2zM588.6 162.1h2.2v2.3h-2.2zM604.0 162.1h2.2v2.3h-2.2zM529.0 159.6h4.4v2.3h-4.4zM535.6 159.6h2.2v2.3h-2.2zM540.0 159.6h12.8v2.3h-12.8zM555.4 159.6h2.2v2.3h-2.2zM560.3 159.6h2.2v2.3h-2.2zM565.0 159.6h5.2v2.3h-5.2zM581.4 159.6h2.2v2.3h-2.2zM587.9 159.6h3.7v2.3h-3.7zM594.1 159.6h2.2v2.3h-2.2zM532.1 157.1h27.2v2.3h-27.2zM561.6 157.1h4.8v2.3h-4.8zM571.6 157.1h2.3v2.3h-2.3zM589.4 157.1h2.2v2.3h-2.2zM593.1 157.1h2.2v2.3h-2.2zM531.1 154.5h2.2v2.3h-2.2zM542.3 154.5h2.2v2.3h-2.2zM547.1 154.5h11.6v2.3h-11.6zM561.0 154.5h9.4v2.3h-9.4zM571.1 154.5h3.9v2.3h-3.9zM579.1 154.5h2.2v2.3h-2.2zM587.9 154.5h2.2v2.3h-2.2zM608.2 154.5h2.2v2.3h-2.2zM612.6 154.5h2.2v2.3h-2.2zM532.0 152.0h10.5v2.3h-10.5zM544.8 152.0h2.2v2.3h-2.2zM551.8 152.0h4.7v2.3h-4.7zM558.8 152.0h9.1v2.3h-9.1zM569.2 152.0h2.5v2.3h-2.5zM572.6 152.0h3.6v2.3h-3.6zM576.9 152.0h2.2v2.3h-2.2zM532.8 149.5h11.7v2.3h-11.7zM544.8 149.5h6.2v2.3h-6.2zM556.2 149.5h4.6v2.3h-4.6zM563.4 149.5h3.6v2.3h-3.6zM572.1 149.5h4.1v2.3h-4.1zM587.1 149.5h2.2v2.3h-2.2zM604.2 149.5h2.2v2.3h-2.2zM533.6 147.0h11.3v2.3h-11.3zM545.2 147.0h4.6v2.3h-4.6zM558.1 147.0h2.2v2.3h-2.2zM560.7 147.0h4.8v2.3h-4.8zM566.4 147.0h2.2v2.3h-2.2zM569.7 147.0h2.2v2.3h-2.2zM583.9 147.0h2.2v2.3h-2.2zM598.9 147.0h2.2v2.3h-2.2zM534.4 144.4h6.8v2.3h-6.8zM543.5 144.4h4.5v2.3h-4.5zM549.0 144.4h2.2v2.3h-2.2zM553.8 144.4h4.6v2.3h-4.6zM560.9 144.4h4.5v2.3h-4.5zM582.3 144.4h4.5v2.3h-4.5zM537.2 141.9h4.6v2.3h-4.6zM546.0 141.9h4.6v2.3h-4.6zM555.6 141.9h2.2v2.3h-2.2zM559.0 141.9h6.8v2.3h-6.8zM568.0 141.9h2.2v2.3h-2.2zM571.3 141.9h4.5v2.3h-4.5zM579.5 141.9h2.2v2.3h-2.2zM593.9 141.9h2.2v2.3h-2.2zM596.9 141.9h2.2v2.3h-2.2zM535.8 139.4h14.0v2.3h-14.0zM551.3 139.4h8.3v2.3h-8.3zM561.2 139.4h5.8v2.3h-5.8zM567.6 139.4h2.7v2.3h-2.7zM581.7 139.4h2.2v2.3h-2.2zM584.5 139.4h2.2v2.3h-2.2zM604.1 139.4h2.2v2.3h-2.2zM621.0 139.4h2.2v2.3h-2.2zM536.5 136.9h16.4v2.3h-16.4zM556.9 136.9h3.3v2.3h-3.3zM569.5 136.9h3.2v2.3h-3.2zM576.3 136.9h2.2v2.3h-2.2zM586.7 136.9h2.2v2.3h-2.2zM591.2 136.9h2.2v2.3h-2.2zM537.1 134.3h4.5v2.3h-4.5zM544.0 134.3h8.8v2.3h-8.8zM554.8 134.3h2.2v2.3h-2.2zM558.1 134.3h2.4v2.3h-2.4zM561.2 134.3h6.3v2.3h-6.3zM614.0 134.3h2.2v2.3h-2.2zM618.9 134.3h2.2v2.3h-2.2zM539.9 131.8h11.2v2.3h-11.2zM555.0 131.8h2.2v2.3h-2.2zM560.6 131.8h2.2v2.3h-2.2zM570.5 131.8h3.7v2.3h-3.7zM577.6 131.8h2.2v2.3h-2.2zM582.4 131.8h2.2v2.3h-2.2zM596.9 131.8h3.9v2.3h-3.9zM538.3 129.3h11.2v2.3h-11.2zM551.5 129.3h8.4v2.3h-8.4zM562.2 129.3h2.3v2.3h-2.3zM570.2 129.3h2.2v2.3h-2.2zM573.2 129.3h2.2v2.3h-2.2zM591.0 129.3h2.2v2.3h-2.2zM538.9 126.8h2.2v2.3h-2.2zM543.6 126.8h10.5v2.3h-10.5zM557.3 126.8h2.2v2.3h-2.2zM560.7 126.8h2.2v2.3h-2.2zM564.9 126.8h5.5v2.3h-5.5zM579.4 126.8h2.2v2.3h-2.2zM591.8 126.8h2.2v2.3h-2.2zM600.0 126.8h2.2v2.3h-2.2zM539.5 124.2h15.1v2.3h-15.1zM556.8 124.2h5.3v2.3h-5.3zM564.5 124.2h3.0v2.3h-3.0zM572.9 124.2h2.2v2.3h-2.2zM616.5 124.2h2.2v2.3h-2.2zM540.0 121.7h11.1v2.3h-11.1zM557.5 121.7h2.2v2.3h-2.2zM571.0 121.7h7.8v2.3h-7.8zM586.6 121.7h2.2v2.3h-2.2zM590.3 121.7h2.2v2.3h-2.2zM620.8 121.7h2.2v2.3h-2.2zM540.5 119.2h6.6v2.3h-6.6zM551.1 119.2h2.2v2.3h-2.2zM557.6 119.2h2.2v2.3h-2.2zM564.4 119.2h4.0v2.3h-4.0zM577.1 119.2h2.2v2.3h-2.2zM583.0 119.2h2.2v2.3h-2.2zM595.9 119.2h2.2v2.3h-2.2zM617.7 119.2h2.2v2.3h-2.2zM541.1 116.6h2.2v2.3h-2.2zM543.6 116.6h6.7v2.3h-6.7zM550.5 116.6h2.2v2.3h-2.2zM553.6 116.6h2.2v2.3h-2.2zM558.3 116.6h4.5v2.3h-4.5zM566.8 116.6h2.4v2.3h-2.4zM571.2 116.6h6.2v2.3h-6.2zM625.4 116.6h2.2v2.3h-2.2zM541.6 114.1h11.3v2.3h-11.3zM556.5 114.1h2.2v2.3h-2.2zM560.5 114.1h2.2v2.3h-2.2zM563.5 114.1h2.2v2.3h-2.2zM572.4 114.1h5.6v2.3h-5.6zM593.8 114.1h2.2v2.3h-2.2zM610.3 114.1h3.4v2.3h-3.4zM542.1 111.6h4.3v2.3h-4.3zM546.7 111.6h2.2v2.3h-2.2zM552.4 111.6h2.2v2.3h-2.2zM557.1 111.6h2.2v2.3h-2.2zM560.2 111.6h13.5v2.3h-13.5zM627.8 111.6h3.0v2.3h-3.0zM542.6 109.1h16.8v2.3h-16.8zM563.2 109.1h6.6v2.3h-6.6zM579.7 109.1h5.9v2.3h-5.9zM588.1 109.1h2.2v2.3h-2.2zM610.1 109.1h2.2v2.3h-2.2zM543.0 106.5h8.9v2.3h-8.9zM552.2 106.5h3.3v2.3h-3.3zM557.7 106.5h4.8v2.3h-4.8zM563.5 106.5h6.3v2.3h-6.3zM571.5 106.5h2.2v2.3h-2.2zM580.8 106.5h2.2v2.3h-2.2zM585.6 106.5h4.3v2.3h-4.3zM592.0 106.5h3.7v2.3h-3.7zM543.5 104.0h9.0v2.3h-9.0zM554.0 104.0h2.2v2.3h-2.2zM562.7 104.0h5.4v2.3h-5.4zM570.6 104.0h4.0v2.3h-4.0zM584.7 104.0h2.2v2.3h-2.2zM587.6 104.0h2.2v2.3h-2.2zM604.7 104.0h2.2v2.3h-2.2zM544.0 101.5h12.8v2.3h-12.8zM561.9 101.5h2.2v2.3h-2.2zM564.6 101.5h2.2v2.3h-2.2zM583.6 101.5h2.2v2.3h-2.2zM603.5 101.5h2.2v2.3h-2.2zM606.8 101.5h3.8v2.3h-3.8zM613.9 101.5h2.2v2.3h-2.2zM544.5 98.9h4.3v2.3h-4.3zM553.0 98.9h4.5v2.3h-4.5zM560.1 98.9h4.4v2.3h-4.4zM565.3 98.9h3.6v2.3h-3.6zM569.4 98.9h3.4v2.3h-3.4zM576.0 98.9h2.2v2.3h-2.2zM579.8 98.9h2.2v2.3h-2.2zM589.1 98.9h2.2v2.3h-2.2zM544.9 96.4h4.5v2.3h-4.5zM552.0 96.4h4.6v2.3h-4.6zM558.2 96.4h2.2v2.3h-2.2zM563.0 96.4h4.3v2.3h-4.3zM573.0 96.4h2.2v2.3h-2.2zM582.4 96.4h2.2v2.3h-2.2zM604.3 96.4h2.2v2.3h-2.2zM630.6 96.4h2.2v2.3h-2.2zM633.8 96.4h2.2v2.3h-2.2zM545.4 93.9h10.8v2.3h-10.8zM556.6 93.9h6.4v2.3h-6.4zM568.6 93.9h2.8v2.3h-2.8zM575.4 93.9h12.2v2.3h-12.2zM588.2 93.9h2.2v2.3h-2.2zM606.6 93.9h2.2v2.3h-2.2zM547.9 91.4h6.7v2.3h-6.7zM554.8 91.4h4.6v2.3h-4.6zM564.3 91.4h4.9v2.3h-4.9zM589.6 91.4h2.2v2.3h-2.2zM593.3 91.4h2.2v2.3h-2.2zM625.6 91.4h2.2v2.3h-2.2zM546.3 88.8h8.8v2.3h-8.8zM555.4 88.8h4.7v2.3h-4.7zM564.5 88.8h2.2v2.3h-2.2zM570.3 88.8h4.2v2.3h-4.2zM577.3 88.8h2.2v2.3h-2.2zM581.6 88.8h2.2v2.3h-2.2zM586.0 88.8h2.2v2.3h-2.2zM589.2 88.8h2.2v2.3h-2.2zM603.4 88.8h2.9v2.3h-2.9zM617.6 88.8h3.3v2.3h-3.3zM549.0 86.3h2.2v2.3h-2.2zM553.6 86.3h9.4v2.3h-9.4zM565.6 86.3h2.2v2.3h-2.2zM570.2 86.3h2.2v2.3h-2.2zM576.3 86.3h2.2v2.3h-2.2zM579.4 86.3h2.2v2.3h-2.2zM594.3 86.3h3.0v2.3h-3.0zM599.4 86.3h2.4v2.3h-2.4zM614.9 86.3h2.2v2.3h-2.2zM547.2 83.8h13.2v2.3h-13.2zM561.3 83.8h4.6v2.3h-4.6zM571.5 83.8h4.4v2.3h-4.4zM580.8 83.8h5.0v2.3h-5.0zM587.3 83.8h2.2v2.3h-2.2zM611.2 83.8h2.2v2.3h-2.2zM619.3 83.8h2.2v2.3h-2.2zM628.9 83.8h2.2v2.3h-2.2zM547.7 81.3h4.5v2.3h-4.5zM554.7 81.3h7.2v2.3h-7.2zM562.3 81.3h2.2v2.3h-2.2zM566.9 81.3h3.2v2.3h-3.2zM572.1 81.3h2.2v2.3h-2.2zM578.3 81.3h2.2v2.3h-2.2zM587.7 81.3h4.3v2.3h-4.3zM593.5 81.3h2.2v2.3h-2.2zM597.5 81.3h2.2v2.3h-2.2zM604.3 81.3h2.3v2.3h-2.3zM548.1 78.7h6.9v2.3h-6.9zM557.7 78.7h16.1v2.3h-16.1zM581.6 78.7h2.6v2.3h-2.6zM622.2 78.7h2.2v2.3h-2.2zM548.6 76.2h2.2v2.3h-2.2zM553.3 76.2h12.0v2.3h-12.0zM565.5 76.2h4.4v2.3h-4.4zM574.6 76.2h4.7v2.3h-4.7zM579.6 76.2h5.2v2.3h-5.2zM590.2 76.2h2.2v2.3h-2.2zM593.7 76.2h2.2v2.3h-2.2zM596.9 76.2h4.0v2.3h-4.0zM549.1 73.7h8.7v2.3h-8.7zM560.2 73.7h6.0v2.3h-6.0zM575.4 73.7h2.8v2.3h-2.8zM585.4 73.7h2.2v2.3h-2.2zM588.3 73.7h2.2v2.3h-2.2zM594.6 73.7h2.2v2.3h-2.2zM602.6 73.7h2.2v2.3h-2.2zM612.8 73.7h3.8v2.3h-3.8zM618.9 73.7h2.2v2.3h-2.2zM549.5 71.1h4.3v2.3h-4.3zM556.2 71.1h8.3v2.3h-8.3zM566.5 71.1h2.2v2.3h-2.2zM571.5 71.1h5.5v2.3h-5.5zM580.6 71.1h2.2v2.3h-2.2zM586.7 71.1h2.2v2.3h-2.2zM592.2 71.1h2.2v2.3h-2.2zM602.5 71.1h2.2v2.3h-2.2zM622.6 71.1h2.2v2.3h-2.2zM552.3 68.6h12.9v2.3h-12.9zM567.2 68.6h4.6v2.3h-4.6zM572.9 68.6h4.2v2.3h-4.2zM579.8 68.6h6.6v2.3h-6.6zM588.7 68.6h2.2v2.3h-2.2zM592.8 68.6h2.2v2.3h-2.2zM603.8 68.6h2.2v2.3h-2.2zM623.7 68.6h2.2v2.3h-2.2zM630.8 68.6h2.2v2.3h-2.2zM550.5 66.1h4.5v2.3h-4.5zM557.6 66.1h6.3v2.3h-6.3zM568.0 66.1h8.3v2.3h-8.3zM577.4 66.1h7.1v2.3h-7.1zM590.1 66.1h2.2v2.3h-2.2zM595.2 66.1h2.2v2.3h-2.2zM609.3 66.1h2.2v2.3h-2.2zM551.0 63.6h7.0v2.3h-7.0zM560.2 63.6h4.6v2.3h-4.6zM566.4 63.6h6.9v2.3h-6.9zM577.4 63.6h2.2v2.3h-2.2zM593.2 63.6h2.7v2.3h-2.7zM611.4 63.6h2.7v2.3h-2.7zM618.4 63.6h2.2v2.3h-2.2zM632.1 63.6h2.2v2.3h-2.2zM551.5 61.0h19.8v2.3h-19.8zM574.0 61.0h5.2v2.3h-5.2zM580.8 61.0h2.2v2.3h-2.2zM588.5 61.0h2.2v2.3h-2.2zM647.5 61.0h2.2v2.3h-2.2zM552.0 58.5h15.8v2.3h-15.8zM570.0 58.5h2.2v2.3h-2.2zM574.6 58.5h4.4v2.3h-4.4zM579.7 58.5h2.2v2.3h-2.2zM582.8 58.5h2.2v2.3h-2.2zM588.8 58.5h2.2v2.3h-2.2zM603.3 58.5h2.2v2.3h-2.2zM606.1 58.5h4.1v2.3h-4.1zM615.8 58.5h4.6v2.3h-4.6zM623.3 58.5h2.2v2.3h-2.2zM636.3 58.5h2.2v2.3h-2.2zM556.8 56.0h2.2v2.3h-2.2zM561.5 56.0h4.6v2.3h-4.6zM566.4 56.0h2.2v2.3h-2.2zM573.3 56.0h2.2v2.3h-2.2zM576.0 56.0h3.9v2.3h-3.9zM583.5 56.0h2.2v2.3h-2.2zM587.2 56.0h2.2v2.3h-2.2zM603.6 56.0h2.2v2.3h-2.2zM608.6 56.0h2.2v2.3h-2.2zM613.1 56.0h2.2v2.3h-2.2zM642.3 56.0h2.2v2.3h-2.2zM553.1 53.5h6.3v2.3h-6.3zM561.7 53.5h7.0v2.3h-7.0zM569.8 53.5h2.2v2.3h-2.2zM576.4 53.5h2.2v2.3h-2.2zM579.6 53.5h2.2v2.3h-2.2zM582.5 53.5h2.8v2.3h-2.8zM586.6 53.5h2.2v2.3h-2.2zM589.4 53.5h3.9v2.3h-3.9zM593.8 53.5h6.0v2.3h-6.0zM627.9 53.5h2.2v2.3h-2.2zM640.4 53.5h2.2v2.3h-2.2zM553.6 50.9h13.3v2.3h-13.3zM572.9 50.9h7.0v2.3h-7.0zM581.1 50.9h2.2v2.3h-2.2zM588.4 50.9h2.2v2.3h-2.2zM621.4 50.9h2.2v2.3h-2.2zM633.2 50.9h2.2v2.3h-2.2zM554.2 48.4h9.2v2.3h-9.2zM566.0 48.4h5.7v2.3h-5.7zM573.8 48.4h4.6v2.3h-4.6zM581.9 48.4h2.2v2.3h-2.2zM584.8 48.4h3.9v2.3h-3.9zM594.9 48.4h2.2v2.3h-2.2zM601.0 48.4h3.4v2.3h-3.4zM616.5 48.4h2.3v2.3h-2.3zM554.8 45.9h2.2v2.3h-2.2zM559.2 45.9h13.6v2.3h-13.6zM575.1 45.9h2.2v2.3h-2.2zM582.1 45.9h6.3v2.3h-6.3zM589.8 45.9h4.2v2.3h-4.2zM615.1 45.9h2.2v2.3h-2.2zM555.5 43.3h11.1v2.3h-11.1zM569.0 43.3h13.2v2.3h-13.2zM601.2 43.3h2.2v2.3h-2.2zM605.6 43.3h2.2v2.3h-2.2zM614.7 43.3h2.2v2.3h-2.2zM624.5 43.3h2.2v2.3h-2.2zM631.8 43.3h3.0v2.3h-3.0zM645.1 43.3h2.2v2.3h-2.2zM556.2 40.8h25.6v2.3h-25.6zM583.8 40.8h2.2v2.3h-2.2zM587.7 40.8h4.2v2.3h-4.2zM595.1 40.8h2.2v2.3h-2.2zM602.3 40.8h2.2v2.3h-2.2zM608.3 40.8h2.2v2.3h-2.2zM615.9 40.8h2.2v2.3h-2.2zM642.1 40.8h2.2v2.3h-2.2zM557.0 38.3h11.1v2.3h-11.1zM570.3 38.3h11.4v2.3h-11.4zM584.1 38.3h5.6v2.3h-5.6zM594.7 38.3h4.7v2.3h-4.7zM600.2 38.3h2.2v2.3h-2.2zM603.2 38.3h3.1v2.3h-3.1zM618.5 38.3h2.2v2.3h-2.2zM557.8 35.8h32.3v2.3h-32.3zM592.4 35.8h5.2v2.3h-5.2zM603.2 35.8h2.2v2.3h-2.2zM611.0 35.8h2.2v2.3h-2.2zM616.4 35.8h2.2v2.3h-2.2zM631.8 35.8h2.2v2.3h-2.2zM638.4 35.8h2.2v2.3h-2.2zM558.8 33.2h10.8v2.3h-10.8zM569.9 33.2h2.2v2.3h-2.2zM574.6 33.2h6.8v2.3h-6.8zM583.8 33.2h4.7v2.3h-4.7zM591.0 33.2h2.2v2.3h-2.2zM596.5 33.2h2.2v2.3h-2.2zM599.3 33.2h3.9v2.3h-3.9zM612.7 33.2h2.2v2.3h-2.2zM622.2 33.2h2.2v2.3h-2.2zM633.8 33.2h2.2v2.3h-2.2zM560.0 30.7h32.9v2.3h-32.9zM593.3 30.7h2.2v2.3h-2.2zM596.6 30.7h2.2v2.3h-2.2zM599.8 30.7h2.2v2.3h-2.2zM604.9 30.7h2.2v2.3h-2.2zM609.7 30.7h5.4v2.3h-5.4zM561.7 28.2h13.1v2.3h-13.1zM575.1 28.2h13.8v2.3h-13.8zM590.9 28.2h9.0v2.3h-9.0zM603.7 28.2h2.7v2.3h-2.7zM612.4 28.2h4.1v2.3h-4.1zM638.4 28.2h2.2v2.3h-2.2zM641.2 28.2h2.2v2.3h-2.2zM564.7 25.7h2.2v2.3h-2.2zM569.3 25.7h4.7v2.3h-4.7zM574.3 25.7h23.0v2.3h-23.0zM601.7 25.7h4.5v2.3h-4.5zM608.7 25.7h6.0v2.3h-6.0zM629.1 25.7h2.2v2.3h-2.2zM633.2 25.7h2.2v2.3h-2.2z" fill="#D88E97"/>
<path d="M485.8 169.7h2.2v2.3h-2.2zM490.8 169.7h2.2v2.3h-2.2zM497.2 167.2h2.2v2.3h-2.2zM497.0 164.7h6.6v2.3h-6.6zM505.7 164.7h2.2v2.3h-2.2zM505.2 162.1h2.2v2.3h-2.2zM503.5 159.6h2.2v2.3h-2.2zM507.9 159.6h2.2v2.3h-2.2zM503.3 157.1h2.2v2.3h-2.2zM507.6 157.1h2.2v2.3h-2.2zM505.2 154.5h2.2v2.3h-2.2zM514.4 154.5h2.2v2.3h-2.2zM511.4 152.0h2.2v2.3h-2.2zM510.9 149.5h4.3v2.3h-4.3zM517.4 149.5h2.2v2.3h-2.2zM512.6 147.0h4.3v2.3h-4.3zM508.5 144.4h2.2v2.3h-2.2zM511.6 144.4h2.2v2.3h-2.2zM520.0 144.4h2.2v2.3h-2.2zM507.7 141.9h2.2v2.3h-2.2zM510.3 141.9h4.6v2.3h-4.6zM519.8 141.9h2.2v2.3h-2.2zM513.8 139.4h4.6v2.3h-4.6zM520.4 139.4h2.2v2.3h-2.2zM524.4 139.4h2.2v2.3h-2.2zM514.9 136.9h2.2v2.3h-2.2zM521.9 136.9h4.4v2.3h-4.4zM513.4 134.3h4.5v2.3h-4.5zM522.3 134.3h2.2v2.3h-2.2zM511.8 131.8h4.8v2.3h-4.8zM518.7 131.8h2.2v2.3h-2.2zM523.3 131.8h2.2v2.3h-2.2zM512.8 129.3h2.2v2.3h-2.2zM519.6 129.3h4.3v2.3h-4.3zM526.2 129.3h2.2v2.3h-2.2zM518.4 126.8h10.7v2.3h-10.7zM514.8 124.2h6.7v2.3h-6.7zM524.0 124.2h2.2v2.3h-2.2zM528.8 124.2h2.2v2.3h-2.2zM519.8 121.7h4.4v2.3h-4.4zM526.5 121.7h2.2v2.3h-2.2zM520.8 119.2h4.4v2.3h-4.4zM529.8 119.2h2.2v2.3h-2.2zM518.3 116.6h2.2v2.3h-2.2zM521.2 116.6h8.9v2.3h-8.9zM532.0 116.6h2.2v2.3h-2.2zM515.7 114.1h2.2v2.3h-2.2zM522.1 114.1h10.9v2.3h-10.9zM514.9 111.6h4.2v2.3h-4.2zM525.2 111.6h4.3v2.3h-4.3zM531.8 111.6h2.2v2.3h-2.2zM521.0 109.1h11.1v2.3h-11.1zM532.5 109.1h2.2v2.3h-2.2zM521.6 106.5h11.1v2.3h-11.1zM533.1 106.5h2.2v2.3h-2.2zM515.6 104.0h3.7v2.3h-3.7zM520.6 104.0h15.3v2.3h-15.3zM517.7 101.5h2.2v2.3h-2.2zM525.3 101.5h2.2v2.3h-2.2zM529.9 101.5h4.3v2.3h-4.3zM534.5 101.5h2.2v2.3h-2.2zM525.7 98.9h2.2v2.3h-2.2zM530.3 98.9h6.8v2.3h-6.8zM517.3 96.4h2.2v2.3h-2.2zM519.8 96.4h2.2v2.3h-2.2zM524.0 96.4h14.3v2.3h-14.3zM522.2 93.9h4.6v2.3h-4.6zM531.3 93.9h6.5v2.3h-6.5zM522.9 91.4h15.8v2.3h-15.8zM532.6 88.8h6.8v2.3h-6.8zM524.3 86.3h15.8v2.3h-15.8zM529.3 83.8h11.1v2.3h-11.1zM529.2 81.3h11.8v2.3h-11.8zM530.3 78.7h4.5v2.3h-4.5zM537.3 78.7h4.6v2.3h-4.6zM525.6 76.2h2.2v2.3h-2.2zM529.6 76.2h3.4v2.3h-3.4zM533.3 76.2h6.7v2.3h-6.7zM526.3 73.7h3.8v2.3h-3.8zM531.3 73.7h2.2v2.3h-2.2zM533.9 73.7h8.8v2.3h-8.8zM531.1 71.1h12.0v2.3h-12.0zM528.1 68.6h2.2v2.3h-2.2zM532.4 68.6h4.4v2.3h-4.4zM538.9 68.6h4.7v2.3h-4.7zM530.1 66.1h2.2v2.3h-2.2zM532.9 66.1h4.7v2.3h-4.7zM539.5 66.1h4.3v2.3h-4.3zM533.2 63.6h11.5v2.3h-11.5zM533.9 61.0h12.0v2.3h-12.0zM531.5 58.5h2.2v2.3h-2.2zM534.5 58.5h11.3v2.3h-11.3zM534.7 56.0h11.7v2.3h-11.7zM533.7 53.5h13.3v2.3h-13.3zM529.8 50.9h2.2v2.3h-2.2zM536.1 50.9h2.2v2.3h-2.2zM538.6 50.9h2.2v2.3h-2.2zM541.1 50.9h7.1v2.3h-7.1zM536.6 48.4h9.0v2.3h-9.0zM532.5 45.9h16.0v2.3h-16.0zM537.8 43.3h4.7v2.3h-4.7zM542.8 43.3h4.5v2.3h-4.5zM535.9 40.8h2.2v2.3h-2.2zM538.4 40.8h10.8v2.3h-10.8zM535.4 38.3h2.3v2.3h-2.3zM539.0 38.3h2.2v2.3h-2.2zM543.3 38.3h6.5v2.3h-6.5zM538.5 35.8h12.3v2.3h-12.3zM540.4 33.2h11.2v2.3h-11.2zM541.2 30.7h11.3v2.3h-11.3zM539.8 28.2h8.7v2.3h-8.7zM551.1 28.2h2.2v2.3h-2.2zM537.1 25.7h2.2v2.3h-2.2zM542.9 25.7h6.2v2.3h-6.2zM551.4 25.7h2.2v2.3h-2.2zM543.0 23.1h10.8v2.3h-10.8zM544.0 20.6h11.7v2.3h-11.7zM548.0 18.1h9.0v2.3h-9.0zM544.0 15.5h29.2v2.3h-29.2z" fill="#44996D"/>
<path d="M486.9 179.8h2.2v2.3h-2.2zM497.9 179.8h2.2v2.3h-2.2zM508.7 179.8h2.2v2.3h-2.2zM479.5 177.3h2.2v2.3h-2.2zM490.5 177.3h4.7v2.3h-4.7zM502.2 177.3h4.4v2.3h-4.4zM482.8 174.8h2.2v2.3h-2.2zM487.2 174.8h2.2v2.3h-2.2zM493.7 174.8h6.3v2.3h-6.3zM504.3 174.8h9.1v2.3h-9.1zM489.7 172.2h2.2v2.3h-2.2zM496.4 172.2h2.2v2.3h-2.2zM503.3 172.2h2.2v2.3h-2.2zM517.1 172.2h4.6v2.3h-4.6zM501.3 169.7h6.7v2.3h-6.7zM512.2 169.7h4.5v2.3h-4.5zM523.1 169.7h2.2v2.3h-2.2zM501.5 167.2h6.2v2.3h-6.2zM508.0 167.2h2.2v2.3h-2.2zM514.7 167.2h2.2v2.3h-2.2zM523.5 167.2h2.2v2.3h-2.2zM506.0 164.7h4.2v2.3h-4.2zM517.1 164.7h2.2v2.3h-2.2zM524.4 164.7h2.2v2.3h-2.2zM509.3 162.1h2.2v2.3h-2.2zM516.5 162.1h2.2v2.3h-2.2zM520.9 162.1h2.2v2.3h-2.2zM525.4 162.1h2.2v2.3h-2.2zM512.0 159.6h2.2v2.3h-2.2zM518.9 159.6h2.2v2.3h-2.2zM527.5 159.6h2.2v2.3h-2.2zM521.6 157.1h6.3v2.3h-6.3zM516.2 154.5h6.7v2.3h-6.7zM525.0 154.5h4.2v2.3h-4.2zM520.0 152.0h2.2v2.3h-2.2zM524.5 152.0h6.7v2.3h-6.7zM519.5 149.5h2.2v2.3h-2.2zM524.0 149.5h8.9v2.3h-8.9zM520.9 147.0h2.2v2.3h-2.2zM523.4 147.0h10.7v2.3h-10.7zM524.6 144.4h10.8v2.3h-10.8zM523.3 141.9h13.7v2.3h-13.7zM524.4 139.4h13.0v2.3h-13.0zM525.4 136.9h11.4v2.3h-11.4zM526.4 134.3h10.9v2.3h-10.9zM527.3 131.8h11.7v2.3h-11.7zM528.2 129.3h7.0v2.3h-7.0zM537.9 129.3h2.2v2.3h-2.2zM529.0 126.8h2.2v2.3h-2.2zM533.3 126.8h4.2v2.3h-4.2zM537.8 126.8h2.2v2.3h-2.2zM529.8 124.2h10.8v2.3h-10.8zM530.6 121.7h10.8v2.3h-10.8zM533.5 119.2h2.2v2.3h-2.2zM536.0 119.2h4.6v2.3h-4.6zM532.0 116.6h10.6v2.3h-10.6zM532.7 114.1h6.4v2.3h-6.4zM539.4 114.1h2.2v2.3h-2.2zM533.4 111.6h2.2v2.3h-2.2zM535.9 111.6h4.4v2.3h-4.4zM534.0 109.1h4.5v2.3h-4.5zM540.7 109.1h2.2v2.3h-2.2zM534.6 106.5h8.8v2.3h-8.8zM535.3 104.0h2.2v2.3h-2.2zM539.7 104.0h4.4v2.3h-4.4zM538.1 101.5h4.4v2.3h-4.4zM536.4 98.9h9.0v2.3h-9.0zM537.0 96.4h6.9v2.3h-6.9zM537.6 93.9h8.7v2.3h-8.7zM538.1 91.4h8.8v2.3h-8.8zM538.7 88.8h4.6v2.3h-4.6zM545.6 88.8h2.2v2.3h-2.2zM539.2 86.3h2.2v2.3h-2.2zM541.7 86.3h6.6v2.3h-6.6zM539.8 83.8h2.2v2.3h-2.2zM542.3 83.8h6.6v2.3h-6.6zM542.3 81.3h4.7v2.3h-4.7zM540.8 78.7h4.4v2.3h-4.4zM547.4 78.7h2.2v2.3h-2.2zM541.3 76.2h8.6v2.3h-8.6zM541.8 73.7h8.9v2.3h-8.9zM542.4 71.1h9.1v2.3h-9.1zM542.9 68.6h8.8v2.3h-8.8zM543.4 66.1h2.2v2.3h-2.2zM545.9 66.1h6.4v2.3h-6.4zM543.9 63.6h8.9v2.3h-8.9zM544.4 61.0h8.8v2.3h-8.8zM545.0 58.5h8.7v2.3h-8.7zM545.5 56.0h4.5v2.3h-4.5zM546.0 53.5h8.9v2.3h-8.9zM546.6 50.9h9.2v2.3h-9.2zM547.1 48.4h2.2v2.3h-2.2zM551.5 48.4h4.5v2.3h-4.5zM547.7 45.9h6.8v2.3h-6.8zM548.3 43.3h7.0v2.3h-7.0zM548.9 40.8h7.0v2.3h-7.0zM549.5 38.3h9.1v2.3h-9.1zM552.6 35.8h6.3v2.3h-6.3zM550.9 33.2h8.7v2.3h-8.7zM551.7 30.7h6.7v2.3h-6.7zM552.5 28.2h11.4v2.3h-11.4zM553.4 25.7h4.7v2.3h-4.7zM560.6 25.7h4.7v2.3h-4.7zM552.0 23.1h11.0v2.3h-11.0zM563.3 23.1h8.9v2.3h-8.9zM574.6 23.1h31.5v2.3h-31.5zM606.5 23.1h13.3v2.3h-13.3zM620.6 23.1h3.7v2.3h-3.7zM631.5 23.1h2.2v2.3h-2.2zM645.6 23.1h2.2v2.3h-2.2zM649.7 23.1h2.2v2.3h-2.2zM652.5 23.1h2.2v2.3h-2.2zM554.0 20.6h34.1v2.3h-34.1zM588.5 20.6h11.6v2.3h-11.6zM602.1 20.6h38.5v2.3h-38.5zM651.5 20.6h4.5v2.3h-4.5zM665.5 20.6h2.2v2.3h-2.2zM556.0 18.1h23.8v2.3h-23.8zM580.2 18.1h2.2v2.3h-2.2zM584.7 18.1h42.6v2.3h-42.6zM629.9 18.1h7.1v2.3h-7.1zM639.8 18.1h45.7v2.3h-45.7zM573.0 15.5h62.4v2.3h-62.4zM635.7 15.5h49.6v2.3h-49.6z" fill="#46556F"/>
</g>
<rect x="463.6" y="8.4" width="220.6" height="182.5" fill="none" stroke="#333333" stroke-width="0.9"/>
<line x1="481.20" y1="190.90" x2="481.20" y2="192.90" stroke="#333333" stroke-width="0.7" />
<text x="0" y="0" font-size="6.4" text-anchor="middle" fill="#333333" stroke="#333333" stroke-width="0.12" transform="translate(481.20 198.90) scale(1 1.12)" >−20</text>
<line x1="537.80" y1="190.90" x2="537.80" y2="192.90" stroke="#333333" stroke-width="0.7" />
<text x="0" y="0" font-size="6.4" text-anchor="middle" fill="#333333" stroke="#333333" stroke-width="0.12" transform="translate(537.80 198.90) scale(1 1.12)" >−15</text>
<line x1="594.40" y1="190.90" x2="594.40" y2="192.90" stroke="#333333" stroke-width="0.7" />
<text x="0" y="0" font-size="6.4" text-anchor="middle" fill="#333333" stroke="#333333" stroke-width="0.12" transform="translate(594.40 198.90) scale(1 1.12)" >−10</text>
<line x1="651.00" y1="190.90" x2="651.00" y2="192.90" stroke="#333333" stroke-width="0.7" />
<text x="0" y="0" font-size="6.4" text-anchor="middle" fill="#333333" stroke="#333333" stroke-width="0.12" transform="translate(651.00 198.90) scale(1 1.12)" >−5</text>
<line x1="461.60" y1="16.70" x2="463.60" y2="16.70" stroke="#333333" stroke-width="0.7" />
<text x="0" y="0" font-size="6.4" text-anchor="end" fill="#333333" stroke="#333333" stroke-width="0.12" transform="translate(461.30 19.00) scale(1 1.12)" >1.00</text>
<line x1="461.60" y1="58.40" x2="463.60" y2="58.40" stroke="#333333" stroke-width="0.7" />
<text x="0" y="0" font-size="6.4" text-anchor="end" fill="#333333" stroke="#333333" stroke-width="0.12" transform="translate(461.30 60.70) scale(1 1.12)" >0.75</text>
<line x1="461.60" y1="100.10" x2="463.60" y2="100.10" stroke="#333333" stroke-width="0.7" />
<text x="0" y="0" font-size="6.4" text-anchor="end" fill="#333333" stroke="#333333" stroke-width="0.12" transform="translate(461.30 102.40) scale(1 1.12)" >0.50</text>
<line x1="461.60" y1="141.80" x2="463.60" y2="141.80" stroke="#333333" stroke-width="0.7" />
<text x="0" y="0" font-size="6.4" text-anchor="end" fill="#333333" stroke="#333333" stroke-width="0.12" transform="translate(461.30 144.10) scale(1 1.12)" >0.25</text>
<line x1="461.60" y1="183.50" x2="463.60" y2="183.50" stroke="#333333" stroke-width="0.7" />
<text x="0" y="0" font-size="6.4" text-anchor="end" fill="#333333" stroke="#333333" stroke-width="0.12" transform="translate(461.30 185.80) scale(1 1.12)" >0.00</text>
<text x="0" y="0" font-size="7.4" text-anchor="middle" fill="#111" stroke="#111" stroke-width="0.12" transform="translate(586.00 207.80) scale(1 1.12)" >log10(mean relative abundance)</text>
<text x="0" y="0" font-size="7.45" text-anchor="middle" dominant-baseline="central" fill="#111" stroke="#111" stroke-width="0.12" transform="translate(445.80 100.00) rotate(-90.00) scale(1 1.12)" >Occurrence frequency</text>
<path d="M491.9 23.35 L491.90 10.85 A12.5 12.5 0 0 1 502.74 17.12Z" fill="#D38A94"/>
<path d="M491.9 23.35 L502.74 17.12 A12.5 12.5 0 0 1 497.71 34.42Z" fill="#3F9069"/>
<path d="M491.9 23.35 L497.71 34.42 A12.5 12.5 0 1 1 491.90 10.85Z" fill="#44536E"/>
<rect x="465.90" y="39.90" width="5.10" height="5.30" fill="#44536E" />
<text x="0" y="0" font-size="5.55" text-anchor="start" fill="#111" stroke="#111" stroke-width="0.12" transform="translate(472.00 44.50) scale(1 1.12)" >Neutral 57.7%</text>
<rect x="465.90" y="46.00" width="5.10" height="5.30" fill="#3F9069" />
<text x="0" y="0" font-size="5.55" text-anchor="start" fill="#111" stroke="#111" stroke-width="0.12" transform="translate(472.00 50.60) scale(1 1.12)" >Below prediction 25.6%</text>
<rect x="465.90" y="52.10" width="5.10" height="5.30" fill="#D38A94" />
<text x="0" y="0" font-size="5.55" text-anchor="start" fill="#111" stroke="#111" stroke-width="0.12" transform="translate(472.00 56.70) scale(1 1.12)" >Above prediction 16.7%</text>
<text x="0" y="0" font-size="5.65" text-anchor="start" fill="#111" stroke="#111" stroke-width="0.12" transform="translate(466.00 67.10) scale(1 1.12)" >R<tspan font-size="3.6" dy="-2.3">2</tspan><tspan dy="2.3"> =&#160; 0.275</tspan></text>
<text x="0" y="0" font-size="5.65" text-anchor="start" fill="#111" stroke="#111" stroke-width="0.12" transform="translate(466.00 72.70) scale(1 1.12)" >Nm =&#160; 684459.057</text>
</svg></body></html>
